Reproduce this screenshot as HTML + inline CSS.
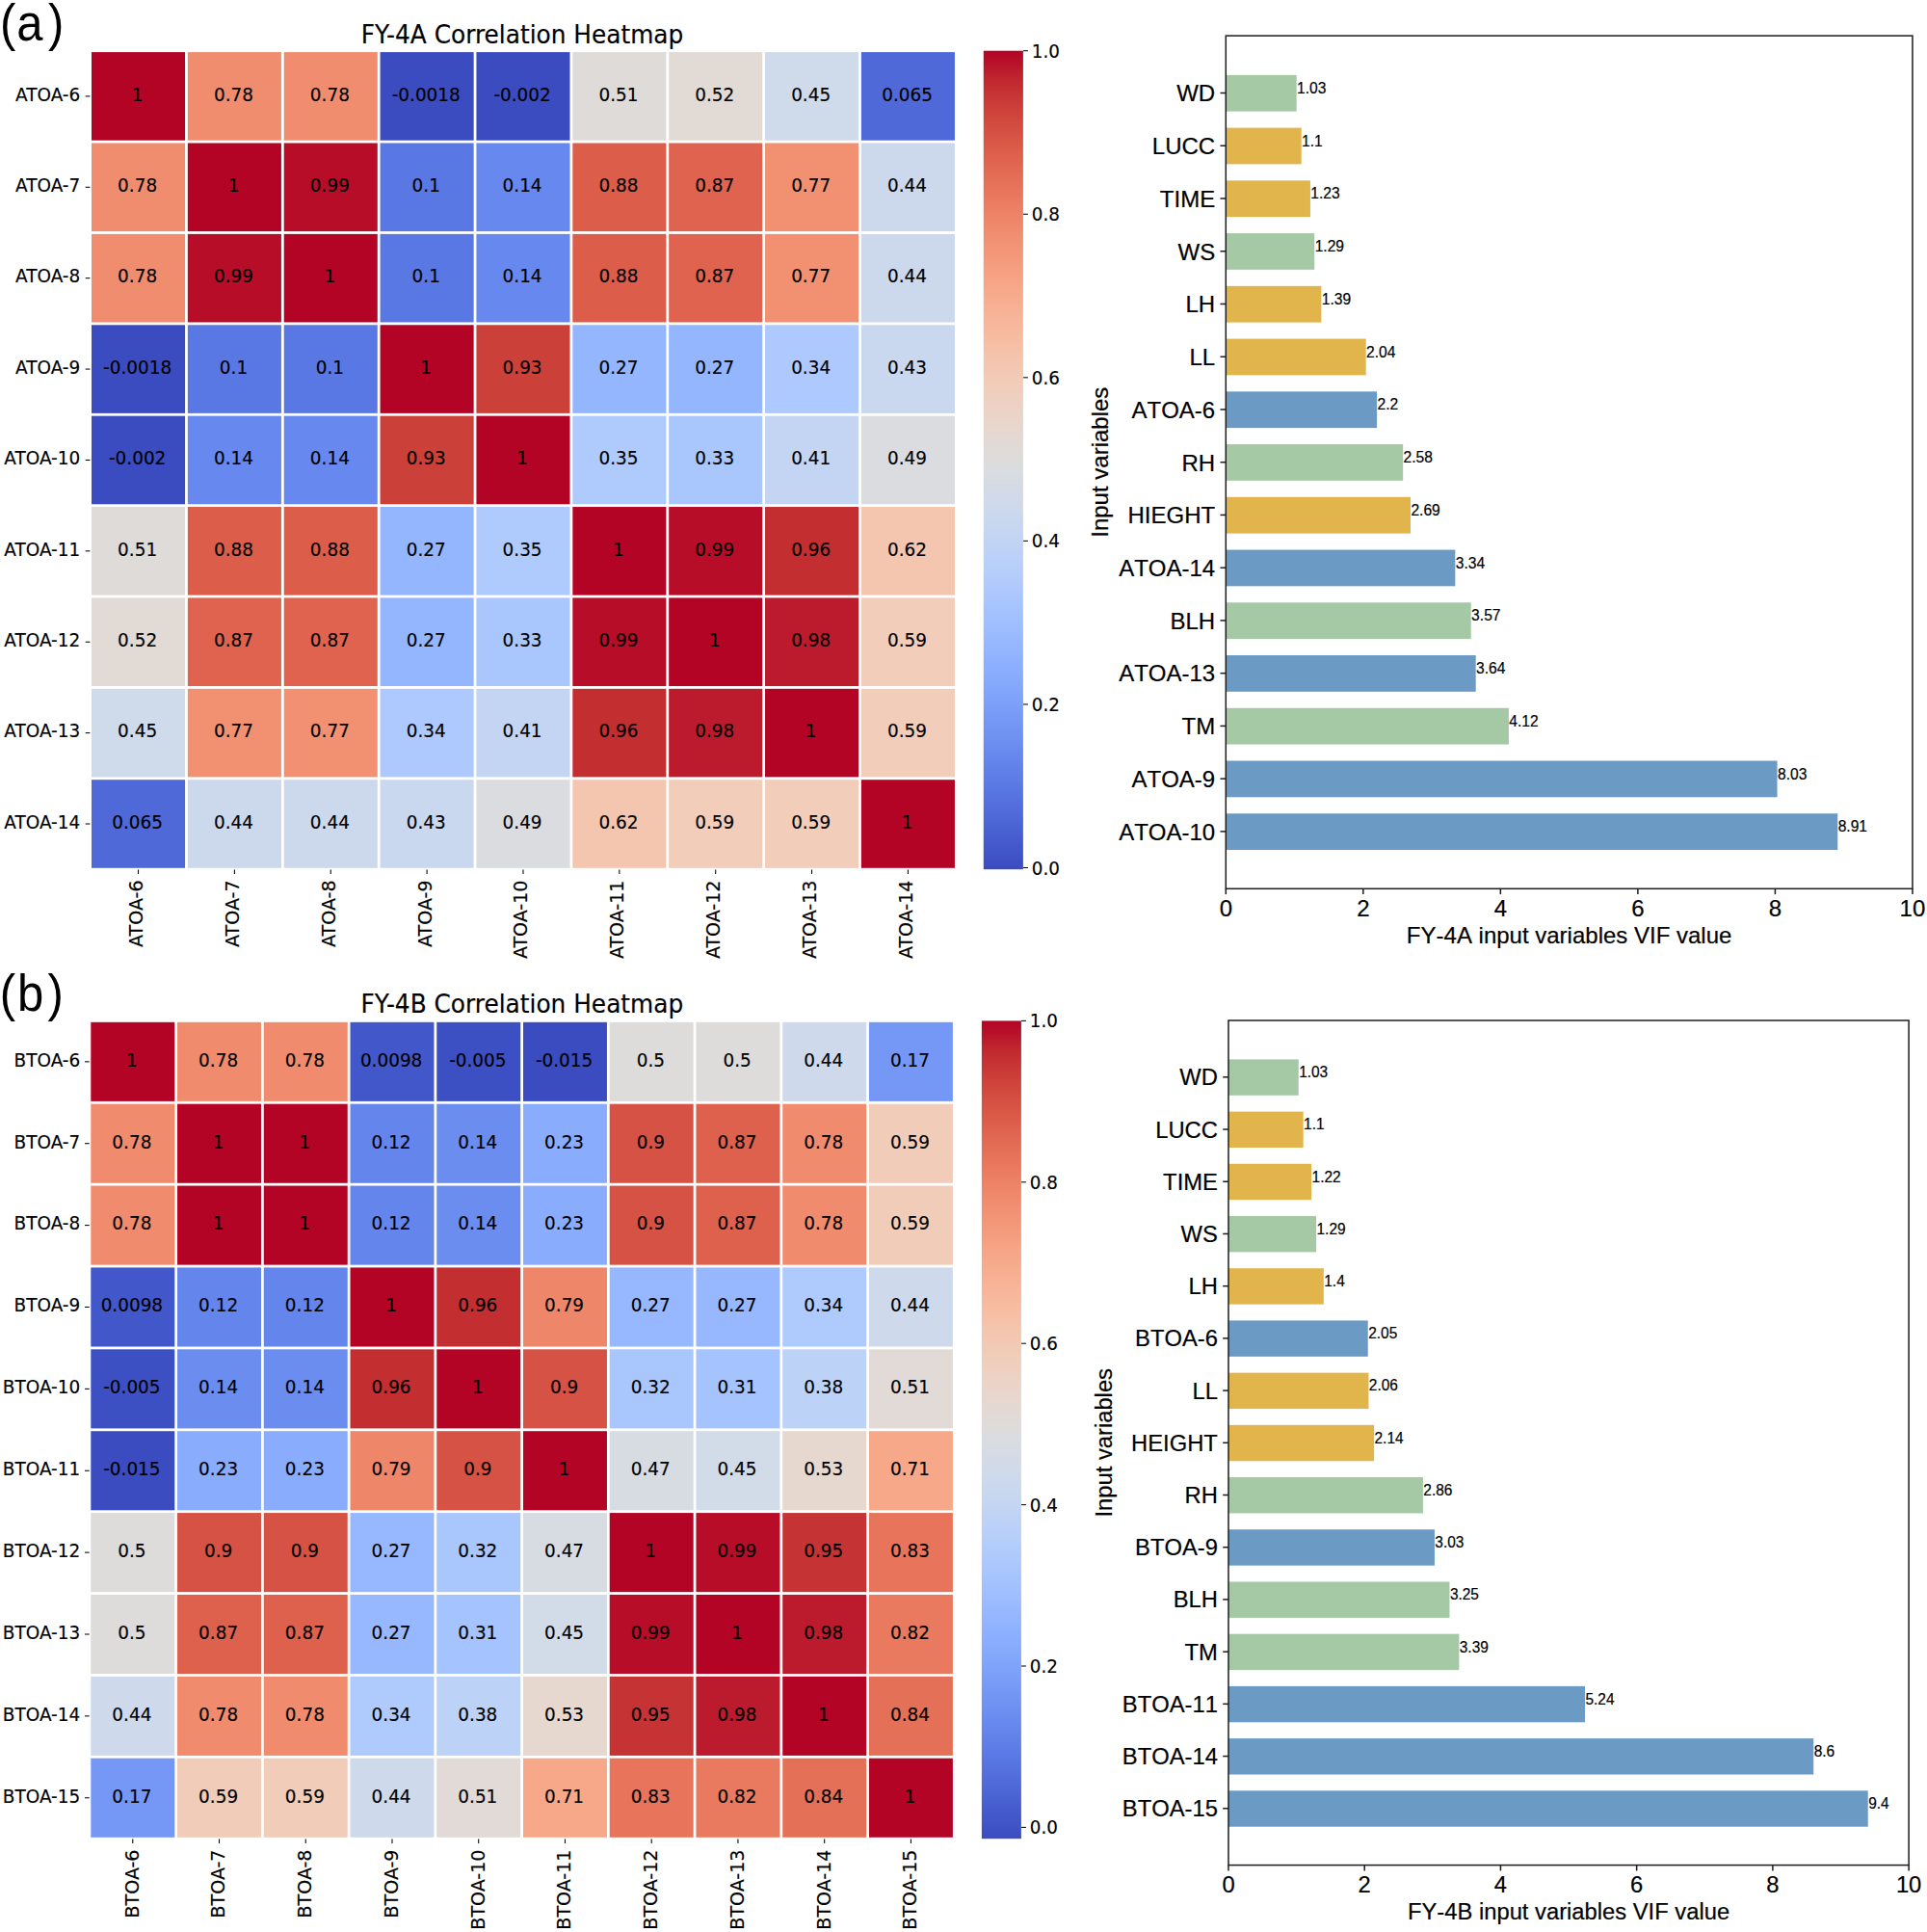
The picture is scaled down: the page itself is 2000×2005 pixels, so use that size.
<!DOCTYPE html>
<html lang="en"><head><meta charset="utf-8"><title>FY-4A / FY-4B correlation heatmaps and VIF values</title>
<style>
html,body{margin:0;padding:0;background:#fff}
body{width:2000px;height:2005px;overflow:hidden}
svg{display:block}
text.dj{font-family:'DejaVu Sans', 'Liberation Sans', sans-serif}
text.ls{font-family:'Liberation Sans', 'DejaVu Sans', sans-serif;font-kerning:none}
</style></head><body>
<svg width="2000" height="2005" viewBox="0 0 2000 2005">
<rect width="2000" height="2005" fill="#fff"/>
<g>
<rect x="93.60" y="52.70" width="898.75" height="849.50" fill="#fff"/>
<rect x="95.00" y="54.10" width="97.06" height="91.59" fill="#b40426"/>
<rect x="194.86" y="54.10" width="97.06" height="91.59" fill="#f18d6f"/>
<rect x="294.72" y="54.10" width="97.06" height="91.59" fill="#f18d6f"/>
<rect x="394.58" y="54.10" width="97.06" height="91.59" fill="#3b4cc0"/>
<rect x="494.44" y="54.10" width="97.06" height="91.59" fill="#3b4cc0"/>
<rect x="594.31" y="54.10" width="97.06" height="91.59" fill="#dfdbd9"/>
<rect x="694.17" y="54.10" width="97.06" height="91.59" fill="#e2dad5"/>
<rect x="794.03" y="54.10" width="97.06" height="91.59" fill="#cfdaea"/>
<rect x="893.89" y="54.10" width="97.06" height="91.59" fill="#4f69d9"/>
<rect x="95.00" y="148.49" width="97.06" height="91.59" fill="#f18d6f"/>
<rect x="194.86" y="148.49" width="97.06" height="91.59" fill="#b40426"/>
<rect x="294.72" y="148.49" width="97.06" height="91.59" fill="#b70d28"/>
<rect x="394.58" y="148.49" width="97.06" height="91.59" fill="#5a78e4"/>
<rect x="494.44" y="148.49" width="97.06" height="91.59" fill="#6788ee"/>
<rect x="594.31" y="148.49" width="97.06" height="91.59" fill="#dc5d4a"/>
<rect x="694.17" y="148.49" width="97.06" height="91.59" fill="#df634e"/>
<rect x="794.03" y="148.49" width="97.06" height="91.59" fill="#f29072"/>
<rect x="893.89" y="148.49" width="97.06" height="91.59" fill="#ccd9ed"/>
<rect x="95.00" y="242.88" width="97.06" height="91.59" fill="#f18d6f"/>
<rect x="194.86" y="242.88" width="97.06" height="91.59" fill="#b70d28"/>
<rect x="294.72" y="242.88" width="97.06" height="91.59" fill="#b40426"/>
<rect x="394.58" y="242.88" width="97.06" height="91.59" fill="#5a78e4"/>
<rect x="494.44" y="242.88" width="97.06" height="91.59" fill="#6788ee"/>
<rect x="594.31" y="242.88" width="97.06" height="91.59" fill="#dc5d4a"/>
<rect x="694.17" y="242.88" width="97.06" height="91.59" fill="#df634e"/>
<rect x="794.03" y="242.88" width="97.06" height="91.59" fill="#f29072"/>
<rect x="893.89" y="242.88" width="97.06" height="91.59" fill="#ccd9ed"/>
<rect x="95.00" y="337.27" width="97.06" height="91.59" fill="#3b4cc0"/>
<rect x="194.86" y="337.27" width="97.06" height="91.59" fill="#5a78e4"/>
<rect x="294.72" y="337.27" width="97.06" height="91.59" fill="#5a78e4"/>
<rect x="394.58" y="337.27" width="97.06" height="91.59" fill="#b40426"/>
<rect x="494.44" y="337.27" width="97.06" height="91.59" fill="#cc403a"/>
<rect x="594.31" y="337.27" width="97.06" height="91.59" fill="#94b6ff"/>
<rect x="694.17" y="337.27" width="97.06" height="91.59" fill="#94b6ff"/>
<rect x="794.03" y="337.27" width="97.06" height="91.59" fill="#adc9fd"/>
<rect x="893.89" y="337.27" width="97.06" height="91.59" fill="#cad8ef"/>
<rect x="95.00" y="431.66" width="97.06" height="91.59" fill="#3b4cc0"/>
<rect x="194.86" y="431.66" width="97.06" height="91.59" fill="#6788ee"/>
<rect x="294.72" y="431.66" width="97.06" height="91.59" fill="#6788ee"/>
<rect x="394.58" y="431.66" width="97.06" height="91.59" fill="#cc403a"/>
<rect x="494.44" y="431.66" width="97.06" height="91.59" fill="#b40426"/>
<rect x="594.31" y="431.66" width="97.06" height="91.59" fill="#afcafc"/>
<rect x="694.17" y="431.66" width="97.06" height="91.59" fill="#a9c6fd"/>
<rect x="794.03" y="431.66" width="97.06" height="91.59" fill="#c4d5f3"/>
<rect x="893.89" y="431.66" width="97.06" height="91.59" fill="#dadce0"/>
<rect x="95.00" y="526.04" width="97.06" height="91.59" fill="#dfdbd9"/>
<rect x="194.86" y="526.04" width="97.06" height="91.59" fill="#dc5d4a"/>
<rect x="294.72" y="526.04" width="97.06" height="91.59" fill="#dc5d4a"/>
<rect x="394.58" y="526.04" width="97.06" height="91.59" fill="#94b6ff"/>
<rect x="494.44" y="526.04" width="97.06" height="91.59" fill="#afcafc"/>
<rect x="594.31" y="526.04" width="97.06" height="91.59" fill="#b40426"/>
<rect x="694.17" y="526.04" width="97.06" height="91.59" fill="#b70d28"/>
<rect x="794.03" y="526.04" width="97.06" height="91.59" fill="#c32e31"/>
<rect x="893.89" y="526.04" width="97.06" height="91.59" fill="#f4c6af"/>
<rect x="95.00" y="620.43" width="97.06" height="91.59" fill="#e2dad5"/>
<rect x="194.86" y="620.43" width="97.06" height="91.59" fill="#df634e"/>
<rect x="294.72" y="620.43" width="97.06" height="91.59" fill="#df634e"/>
<rect x="394.58" y="620.43" width="97.06" height="91.59" fill="#94b6ff"/>
<rect x="494.44" y="620.43" width="97.06" height="91.59" fill="#a9c6fd"/>
<rect x="594.31" y="620.43" width="97.06" height="91.59" fill="#b70d28"/>
<rect x="694.17" y="620.43" width="97.06" height="91.59" fill="#b40426"/>
<rect x="794.03" y="620.43" width="97.06" height="91.59" fill="#bb1b2c"/>
<rect x="893.89" y="620.43" width="97.06" height="91.59" fill="#f1cdba"/>
<rect x="95.00" y="714.82" width="97.06" height="91.59" fill="#cfdaea"/>
<rect x="194.86" y="714.82" width="97.06" height="91.59" fill="#f29072"/>
<rect x="294.72" y="714.82" width="97.06" height="91.59" fill="#f29072"/>
<rect x="394.58" y="714.82" width="97.06" height="91.59" fill="#adc9fd"/>
<rect x="494.44" y="714.82" width="97.06" height="91.59" fill="#c4d5f3"/>
<rect x="594.31" y="714.82" width="97.06" height="91.59" fill="#c32e31"/>
<rect x="694.17" y="714.82" width="97.06" height="91.59" fill="#bb1b2c"/>
<rect x="794.03" y="714.82" width="97.06" height="91.59" fill="#b40426"/>
<rect x="893.89" y="714.82" width="97.06" height="91.59" fill="#f1cdba"/>
<rect x="95.00" y="809.21" width="97.06" height="91.59" fill="#4f69d9"/>
<rect x="194.86" y="809.21" width="97.06" height="91.59" fill="#ccd9ed"/>
<rect x="294.72" y="809.21" width="97.06" height="91.59" fill="#ccd9ed"/>
<rect x="394.58" y="809.21" width="97.06" height="91.59" fill="#cad8ef"/>
<rect x="494.44" y="809.21" width="97.06" height="91.59" fill="#dadce0"/>
<rect x="594.31" y="809.21" width="97.06" height="91.59" fill="#f4c6af"/>
<rect x="694.17" y="809.21" width="97.06" height="91.59" fill="#f1cdba"/>
<rect x="794.03" y="809.21" width="97.06" height="91.59" fill="#f1cdba"/>
<rect x="893.89" y="809.21" width="97.06" height="91.59" fill="#b40426"/>
<text class="dj" transform="translate(142.63,104.69) scale(0.9170,1.0000)" font-size="20.10" text-anchor="middle" fill="#000" stroke="#000" stroke-width="0.15">1</text>
<text class="dj" transform="translate(242.49,104.69) scale(0.9170,1.0000)" font-size="20.10" text-anchor="middle" fill="#000" stroke="#000" stroke-width="0.15">0.78</text>
<text class="dj" transform="translate(342.35,104.69) scale(0.9170,1.0000)" font-size="20.10" text-anchor="middle" fill="#000" stroke="#000" stroke-width="0.15">0.78</text>
<text class="dj" transform="translate(442.21,104.69) scale(0.9170,1.0000)" font-size="20.10" text-anchor="middle" fill="#000" stroke="#000" stroke-width="0.15">-0.0018</text>
<text class="dj" transform="translate(542.08,104.69) scale(0.9170,1.0000)" font-size="20.10" text-anchor="middle" fill="#000" stroke="#000" stroke-width="0.15">-0.002</text>
<text class="dj" transform="translate(641.94,104.69) scale(0.9170,1.0000)" font-size="20.10" text-anchor="middle" fill="#000" stroke="#000" stroke-width="0.15">0.51</text>
<text class="dj" transform="translate(741.80,104.69) scale(0.9170,1.0000)" font-size="20.10" text-anchor="middle" fill="#000" stroke="#000" stroke-width="0.15">0.52</text>
<text class="dj" transform="translate(841.66,104.69) scale(0.9170,1.0000)" font-size="20.10" text-anchor="middle" fill="#000" stroke="#000" stroke-width="0.15">0.45</text>
<text class="dj" transform="translate(941.52,104.69) scale(0.9170,1.0000)" font-size="20.10" text-anchor="middle" fill="#000" stroke="#000" stroke-width="0.15">0.065</text>
<text class="dj" transform="translate(142.63,199.08) scale(0.9170,1.0000)" font-size="20.10" text-anchor="middle" fill="#000" stroke="#000" stroke-width="0.15">0.78</text>
<text class="dj" transform="translate(242.49,199.08) scale(0.9170,1.0000)" font-size="20.10" text-anchor="middle" fill="#000" stroke="#000" stroke-width="0.15">1</text>
<text class="dj" transform="translate(342.35,199.08) scale(0.9170,1.0000)" font-size="20.10" text-anchor="middle" fill="#000" stroke="#000" stroke-width="0.15">0.99</text>
<text class="dj" transform="translate(442.21,199.08) scale(0.9170,1.0000)" font-size="20.10" text-anchor="middle" fill="#000" stroke="#000" stroke-width="0.15">0.1</text>
<text class="dj" transform="translate(542.08,199.08) scale(0.9170,1.0000)" font-size="20.10" text-anchor="middle" fill="#000" stroke="#000" stroke-width="0.15">0.14</text>
<text class="dj" transform="translate(641.94,199.08) scale(0.9170,1.0000)" font-size="20.10" text-anchor="middle" fill="#000" stroke="#000" stroke-width="0.15">0.88</text>
<text class="dj" transform="translate(741.80,199.08) scale(0.9170,1.0000)" font-size="20.10" text-anchor="middle" fill="#000" stroke="#000" stroke-width="0.15">0.87</text>
<text class="dj" transform="translate(841.66,199.08) scale(0.9170,1.0000)" font-size="20.10" text-anchor="middle" fill="#000" stroke="#000" stroke-width="0.15">0.77</text>
<text class="dj" transform="translate(941.52,199.08) scale(0.9170,1.0000)" font-size="20.10" text-anchor="middle" fill="#000" stroke="#000" stroke-width="0.15">0.44</text>
<text class="dj" transform="translate(142.63,293.47) scale(0.9170,1.0000)" font-size="20.10" text-anchor="middle" fill="#000" stroke="#000" stroke-width="0.15">0.78</text>
<text class="dj" transform="translate(242.49,293.47) scale(0.9170,1.0000)" font-size="20.10" text-anchor="middle" fill="#000" stroke="#000" stroke-width="0.15">0.99</text>
<text class="dj" transform="translate(342.35,293.47) scale(0.9170,1.0000)" font-size="20.10" text-anchor="middle" fill="#000" stroke="#000" stroke-width="0.15">1</text>
<text class="dj" transform="translate(442.21,293.47) scale(0.9170,1.0000)" font-size="20.10" text-anchor="middle" fill="#000" stroke="#000" stroke-width="0.15">0.1</text>
<text class="dj" transform="translate(542.08,293.47) scale(0.9170,1.0000)" font-size="20.10" text-anchor="middle" fill="#000" stroke="#000" stroke-width="0.15">0.14</text>
<text class="dj" transform="translate(641.94,293.47) scale(0.9170,1.0000)" font-size="20.10" text-anchor="middle" fill="#000" stroke="#000" stroke-width="0.15">0.88</text>
<text class="dj" transform="translate(741.80,293.47) scale(0.9170,1.0000)" font-size="20.10" text-anchor="middle" fill="#000" stroke="#000" stroke-width="0.15">0.87</text>
<text class="dj" transform="translate(841.66,293.47) scale(0.9170,1.0000)" font-size="20.10" text-anchor="middle" fill="#000" stroke="#000" stroke-width="0.15">0.77</text>
<text class="dj" transform="translate(941.52,293.47) scale(0.9170,1.0000)" font-size="20.10" text-anchor="middle" fill="#000" stroke="#000" stroke-width="0.15">0.44</text>
<text class="dj" transform="translate(142.63,387.86) scale(0.9170,1.0000)" font-size="20.10" text-anchor="middle" fill="#000" stroke="#000" stroke-width="0.15">-0.0018</text>
<text class="dj" transform="translate(242.49,387.86) scale(0.9170,1.0000)" font-size="20.10" text-anchor="middle" fill="#000" stroke="#000" stroke-width="0.15">0.1</text>
<text class="dj" transform="translate(342.35,387.86) scale(0.9170,1.0000)" font-size="20.10" text-anchor="middle" fill="#000" stroke="#000" stroke-width="0.15">0.1</text>
<text class="dj" transform="translate(442.21,387.86) scale(0.9170,1.0000)" font-size="20.10" text-anchor="middle" fill="#000" stroke="#000" stroke-width="0.15">1</text>
<text class="dj" transform="translate(542.08,387.86) scale(0.9170,1.0000)" font-size="20.10" text-anchor="middle" fill="#000" stroke="#000" stroke-width="0.15">0.93</text>
<text class="dj" transform="translate(641.94,387.86) scale(0.9170,1.0000)" font-size="20.10" text-anchor="middle" fill="#000" stroke="#000" stroke-width="0.15">0.27</text>
<text class="dj" transform="translate(741.80,387.86) scale(0.9170,1.0000)" font-size="20.10" text-anchor="middle" fill="#000" stroke="#000" stroke-width="0.15">0.27</text>
<text class="dj" transform="translate(841.66,387.86) scale(0.9170,1.0000)" font-size="20.10" text-anchor="middle" fill="#000" stroke="#000" stroke-width="0.15">0.34</text>
<text class="dj" transform="translate(941.52,387.86) scale(0.9170,1.0000)" font-size="20.10" text-anchor="middle" fill="#000" stroke="#000" stroke-width="0.15">0.43</text>
<text class="dj" transform="translate(142.63,482.25) scale(0.9170,1.0000)" font-size="20.10" text-anchor="middle" fill="#000" stroke="#000" stroke-width="0.15">-0.002</text>
<text class="dj" transform="translate(242.49,482.25) scale(0.9170,1.0000)" font-size="20.10" text-anchor="middle" fill="#000" stroke="#000" stroke-width="0.15">0.14</text>
<text class="dj" transform="translate(342.35,482.25) scale(0.9170,1.0000)" font-size="20.10" text-anchor="middle" fill="#000" stroke="#000" stroke-width="0.15">0.14</text>
<text class="dj" transform="translate(442.21,482.25) scale(0.9170,1.0000)" font-size="20.10" text-anchor="middle" fill="#000" stroke="#000" stroke-width="0.15">0.93</text>
<text class="dj" transform="translate(542.08,482.25) scale(0.9170,1.0000)" font-size="20.10" text-anchor="middle" fill="#000" stroke="#000" stroke-width="0.15">1</text>
<text class="dj" transform="translate(641.94,482.25) scale(0.9170,1.0000)" font-size="20.10" text-anchor="middle" fill="#000" stroke="#000" stroke-width="0.15">0.35</text>
<text class="dj" transform="translate(741.80,482.25) scale(0.9170,1.0000)" font-size="20.10" text-anchor="middle" fill="#000" stroke="#000" stroke-width="0.15">0.33</text>
<text class="dj" transform="translate(841.66,482.25) scale(0.9170,1.0000)" font-size="20.10" text-anchor="middle" fill="#000" stroke="#000" stroke-width="0.15">0.41</text>
<text class="dj" transform="translate(941.52,482.25) scale(0.9170,1.0000)" font-size="20.10" text-anchor="middle" fill="#000" stroke="#000" stroke-width="0.15">0.49</text>
<text class="dj" transform="translate(142.63,576.64) scale(0.9170,1.0000)" font-size="20.10" text-anchor="middle" fill="#000" stroke="#000" stroke-width="0.15">0.51</text>
<text class="dj" transform="translate(242.49,576.64) scale(0.9170,1.0000)" font-size="20.10" text-anchor="middle" fill="#000" stroke="#000" stroke-width="0.15">0.88</text>
<text class="dj" transform="translate(342.35,576.64) scale(0.9170,1.0000)" font-size="20.10" text-anchor="middle" fill="#000" stroke="#000" stroke-width="0.15">0.88</text>
<text class="dj" transform="translate(442.21,576.64) scale(0.9170,1.0000)" font-size="20.10" text-anchor="middle" fill="#000" stroke="#000" stroke-width="0.15">0.27</text>
<text class="dj" transform="translate(542.08,576.64) scale(0.9170,1.0000)" font-size="20.10" text-anchor="middle" fill="#000" stroke="#000" stroke-width="0.15">0.35</text>
<text class="dj" transform="translate(641.94,576.64) scale(0.9170,1.0000)" font-size="20.10" text-anchor="middle" fill="#000" stroke="#000" stroke-width="0.15">1</text>
<text class="dj" transform="translate(741.80,576.64) scale(0.9170,1.0000)" font-size="20.10" text-anchor="middle" fill="#000" stroke="#000" stroke-width="0.15">0.99</text>
<text class="dj" transform="translate(841.66,576.64) scale(0.9170,1.0000)" font-size="20.10" text-anchor="middle" fill="#000" stroke="#000" stroke-width="0.15">0.96</text>
<text class="dj" transform="translate(941.52,576.64) scale(0.9170,1.0000)" font-size="20.10" text-anchor="middle" fill="#000" stroke="#000" stroke-width="0.15">0.62</text>
<text class="dj" transform="translate(142.63,671.03) scale(0.9170,1.0000)" font-size="20.10" text-anchor="middle" fill="#000" stroke="#000" stroke-width="0.15">0.52</text>
<text class="dj" transform="translate(242.49,671.03) scale(0.9170,1.0000)" font-size="20.10" text-anchor="middle" fill="#000" stroke="#000" stroke-width="0.15">0.87</text>
<text class="dj" transform="translate(342.35,671.03) scale(0.9170,1.0000)" font-size="20.10" text-anchor="middle" fill="#000" stroke="#000" stroke-width="0.15">0.87</text>
<text class="dj" transform="translate(442.21,671.03) scale(0.9170,1.0000)" font-size="20.10" text-anchor="middle" fill="#000" stroke="#000" stroke-width="0.15">0.27</text>
<text class="dj" transform="translate(542.08,671.03) scale(0.9170,1.0000)" font-size="20.10" text-anchor="middle" fill="#000" stroke="#000" stroke-width="0.15">0.33</text>
<text class="dj" transform="translate(641.94,671.03) scale(0.9170,1.0000)" font-size="20.10" text-anchor="middle" fill="#000" stroke="#000" stroke-width="0.15">0.99</text>
<text class="dj" transform="translate(741.80,671.03) scale(0.9170,1.0000)" font-size="20.10" text-anchor="middle" fill="#000" stroke="#000" stroke-width="0.15">1</text>
<text class="dj" transform="translate(841.66,671.03) scale(0.9170,1.0000)" font-size="20.10" text-anchor="middle" fill="#000" stroke="#000" stroke-width="0.15">0.98</text>
<text class="dj" transform="translate(941.52,671.03) scale(0.9170,1.0000)" font-size="20.10" text-anchor="middle" fill="#000" stroke="#000" stroke-width="0.15">0.59</text>
<text class="dj" transform="translate(142.63,765.42) scale(0.9170,1.0000)" font-size="20.10" text-anchor="middle" fill="#000" stroke="#000" stroke-width="0.15">0.45</text>
<text class="dj" transform="translate(242.49,765.42) scale(0.9170,1.0000)" font-size="20.10" text-anchor="middle" fill="#000" stroke="#000" stroke-width="0.15">0.77</text>
<text class="dj" transform="translate(342.35,765.42) scale(0.9170,1.0000)" font-size="20.10" text-anchor="middle" fill="#000" stroke="#000" stroke-width="0.15">0.77</text>
<text class="dj" transform="translate(442.21,765.42) scale(0.9170,1.0000)" font-size="20.10" text-anchor="middle" fill="#000" stroke="#000" stroke-width="0.15">0.34</text>
<text class="dj" transform="translate(542.08,765.42) scale(0.9170,1.0000)" font-size="20.10" text-anchor="middle" fill="#000" stroke="#000" stroke-width="0.15">0.41</text>
<text class="dj" transform="translate(641.94,765.42) scale(0.9170,1.0000)" font-size="20.10" text-anchor="middle" fill="#000" stroke="#000" stroke-width="0.15">0.96</text>
<text class="dj" transform="translate(741.80,765.42) scale(0.9170,1.0000)" font-size="20.10" text-anchor="middle" fill="#000" stroke="#000" stroke-width="0.15">0.98</text>
<text class="dj" transform="translate(841.66,765.42) scale(0.9170,1.0000)" font-size="20.10" text-anchor="middle" fill="#000" stroke="#000" stroke-width="0.15">1</text>
<text class="dj" transform="translate(941.52,765.42) scale(0.9170,1.0000)" font-size="20.10" text-anchor="middle" fill="#000" stroke="#000" stroke-width="0.15">0.59</text>
<text class="dj" transform="translate(142.63,859.81) scale(0.9170,1.0000)" font-size="20.10" text-anchor="middle" fill="#000" stroke="#000" stroke-width="0.15">0.065</text>
<text class="dj" transform="translate(242.49,859.81) scale(0.9170,1.0000)" font-size="20.10" text-anchor="middle" fill="#000" stroke="#000" stroke-width="0.15">0.44</text>
<text class="dj" transform="translate(342.35,859.81) scale(0.9170,1.0000)" font-size="20.10" text-anchor="middle" fill="#000" stroke="#000" stroke-width="0.15">0.44</text>
<text class="dj" transform="translate(442.21,859.81) scale(0.9170,1.0000)" font-size="20.10" text-anchor="middle" fill="#000" stroke="#000" stroke-width="0.15">0.43</text>
<text class="dj" transform="translate(542.08,859.81) scale(0.9170,1.0000)" font-size="20.10" text-anchor="middle" fill="#000" stroke="#000" stroke-width="0.15">0.49</text>
<text class="dj" transform="translate(641.94,859.81) scale(0.9170,1.0000)" font-size="20.10" text-anchor="middle" fill="#000" stroke="#000" stroke-width="0.15">0.62</text>
<text class="dj" transform="translate(741.80,859.81) scale(0.9170,1.0000)" font-size="20.10" text-anchor="middle" fill="#000" stroke="#000" stroke-width="0.15">0.59</text>
<text class="dj" transform="translate(841.66,859.81) scale(0.9170,1.0000)" font-size="20.10" text-anchor="middle" fill="#000" stroke="#000" stroke-width="0.15">0.59</text>
<text class="dj" transform="translate(941.52,859.81) scale(0.9170,1.0000)" font-size="20.10" text-anchor="middle" fill="#000" stroke="#000" stroke-width="0.15">1</text>
<line x1="88.70" y1="99.89" x2="93.40" y2="99.89" stroke="#000" stroke-width="1.05"/>
<text class="dj" transform="translate(83.20,104.69) scale(0.9170,1.0000)" font-size="20.10" text-anchor="end" fill="#000" stroke="#000" stroke-width="0.15">ATOA-6</text>
<line x1="88.70" y1="194.28" x2="93.40" y2="194.28" stroke="#000" stroke-width="1.05"/>
<text class="dj" transform="translate(83.20,199.08) scale(0.9170,1.0000)" font-size="20.10" text-anchor="end" fill="#000" stroke="#000" stroke-width="0.15">ATOA-7</text>
<line x1="88.70" y1="288.67" x2="93.40" y2="288.67" stroke="#000" stroke-width="1.05"/>
<text class="dj" transform="translate(83.20,293.47) scale(0.9170,1.0000)" font-size="20.10" text-anchor="end" fill="#000" stroke="#000" stroke-width="0.15">ATOA-8</text>
<line x1="88.70" y1="383.06" x2="93.40" y2="383.06" stroke="#000" stroke-width="1.05"/>
<text class="dj" transform="translate(83.20,387.86) scale(0.9170,1.0000)" font-size="20.10" text-anchor="end" fill="#000" stroke="#000" stroke-width="0.15">ATOA-9</text>
<line x1="88.70" y1="477.45" x2="93.40" y2="477.45" stroke="#000" stroke-width="1.05"/>
<text class="dj" transform="translate(83.20,482.25) scale(0.9170,1.0000)" font-size="20.10" text-anchor="end" fill="#000" stroke="#000" stroke-width="0.15">ATOA-10</text>
<line x1="88.70" y1="571.84" x2="93.40" y2="571.84" stroke="#000" stroke-width="1.05"/>
<text class="dj" transform="translate(83.20,576.64) scale(0.9170,1.0000)" font-size="20.10" text-anchor="end" fill="#000" stroke="#000" stroke-width="0.15">ATOA-11</text>
<line x1="88.70" y1="666.23" x2="93.40" y2="666.23" stroke="#000" stroke-width="1.05"/>
<text class="dj" transform="translate(83.20,671.03) scale(0.9170,1.0000)" font-size="20.10" text-anchor="end" fill="#000" stroke="#000" stroke-width="0.15">ATOA-12</text>
<line x1="88.70" y1="760.62" x2="93.40" y2="760.62" stroke="#000" stroke-width="1.05"/>
<text class="dj" transform="translate(83.20,765.42) scale(0.9170,1.0000)" font-size="20.10" text-anchor="end" fill="#000" stroke="#000" stroke-width="0.15">ATOA-13</text>
<line x1="88.70" y1="855.01" x2="93.40" y2="855.01" stroke="#000" stroke-width="1.05"/>
<text class="dj" transform="translate(83.20,859.81) scale(0.9170,1.0000)" font-size="20.10" text-anchor="end" fill="#000" stroke="#000" stroke-width="0.15">ATOA-14</text>
<line x1="143.53" y1="902.40" x2="143.53" y2="907.10" stroke="#000" stroke-width="1.05"/>
<text class="dj" transform="translate(148.03,913.50) rotate(-90) scale(0.9680,1.0000)" font-size="19.70" text-anchor="end" fill="#000" stroke="#000" stroke-width="0.15">ATOA-6</text>
<line x1="243.39" y1="902.40" x2="243.39" y2="907.10" stroke="#000" stroke-width="1.05"/>
<text class="dj" transform="translate(247.89,913.50) rotate(-90) scale(0.9680,1.0000)" font-size="19.70" text-anchor="end" fill="#000" stroke="#000" stroke-width="0.15">ATOA-7</text>
<line x1="343.25" y1="902.40" x2="343.25" y2="907.10" stroke="#000" stroke-width="1.05"/>
<text class="dj" transform="translate(347.75,913.50) rotate(-90) scale(0.9680,1.0000)" font-size="19.70" text-anchor="end" fill="#000" stroke="#000" stroke-width="0.15">ATOA-8</text>
<line x1="443.11" y1="902.40" x2="443.11" y2="907.10" stroke="#000" stroke-width="1.05"/>
<text class="dj" transform="translate(447.61,913.50) rotate(-90) scale(0.9680,1.0000)" font-size="19.70" text-anchor="end" fill="#000" stroke="#000" stroke-width="0.15">ATOA-9</text>
<line x1="542.98" y1="902.40" x2="542.98" y2="907.10" stroke="#000" stroke-width="1.05"/>
<text class="dj" transform="translate(547.48,913.50) rotate(-90) scale(0.9680,1.0000)" font-size="19.70" text-anchor="end" fill="#000" stroke="#000" stroke-width="0.15">ATOA-10</text>
<line x1="642.84" y1="902.40" x2="642.84" y2="907.10" stroke="#000" stroke-width="1.05"/>
<text class="dj" transform="translate(647.34,913.50) rotate(-90) scale(0.9680,1.0000)" font-size="19.70" text-anchor="end" fill="#000" stroke="#000" stroke-width="0.15">ATOA-11</text>
<line x1="742.70" y1="902.40" x2="742.70" y2="907.10" stroke="#000" stroke-width="1.05"/>
<text class="dj" transform="translate(747.20,913.50) rotate(-90) scale(0.9680,1.0000)" font-size="19.70" text-anchor="end" fill="#000" stroke="#000" stroke-width="0.15">ATOA-12</text>
<line x1="842.56" y1="902.40" x2="842.56" y2="907.10" stroke="#000" stroke-width="1.05"/>
<text class="dj" transform="translate(847.06,913.50) rotate(-90) scale(0.9680,1.0000)" font-size="19.70" text-anchor="end" fill="#000" stroke="#000" stroke-width="0.15">ATOA-13</text>
<line x1="942.42" y1="902.40" x2="942.42" y2="907.10" stroke="#000" stroke-width="1.05"/>
<text class="dj" transform="translate(946.92,913.50) rotate(-90) scale(0.9680,1.0000)" font-size="19.70" text-anchor="end" fill="#000" stroke="#000" stroke-width="0.15">ATOA-14</text>
<text class="dj" transform="translate(541.98,45.10) scale(0.9400,1.0000)" font-size="26.40" text-anchor="middle" fill="#000" stroke="#000" stroke-width="0.15">FY-4A Correlation Heatmap</text>
<defs><linearGradient id="ga" x1="0" y1="0" x2="0" y2="1"><stop offset="0.0000" stop-color="#b40426"/><stop offset="0.0156" stop-color="#b8122a"/><stop offset="0.0312" stop-color="#be242e"/><stop offset="0.0469" stop-color="#c43032"/><stop offset="0.0625" stop-color="#ca3b37"/><stop offset="0.0781" stop-color="#cf453c"/><stop offset="0.0938" stop-color="#d44e41"/><stop offset="0.1094" stop-color="#d85646"/><stop offset="0.1250" stop-color="#dd5f4b"/><stop offset="0.1406" stop-color="#e16751"/><stop offset="0.1562" stop-color="#e46e56"/><stop offset="0.1719" stop-color="#e8765c"/><stop offset="0.1875" stop-color="#eb7d62"/><stop offset="0.2031" stop-color="#ee8468"/><stop offset="0.2188" stop-color="#f08b6e"/><stop offset="0.2344" stop-color="#f29274"/><stop offset="0.2500" stop-color="#f4987a"/><stop offset="0.2656" stop-color="#f59f80"/><stop offset="0.2812" stop-color="#f6a586"/><stop offset="0.2969" stop-color="#f7aa8c"/><stop offset="0.3125" stop-color="#f7b093"/><stop offset="0.3281" stop-color="#f7b599"/><stop offset="0.3438" stop-color="#f7ba9f"/><stop offset="0.3594" stop-color="#f6bfa6"/><stop offset="0.3750" stop-color="#f5c4ac"/><stop offset="0.3906" stop-color="#f3c8b2"/><stop offset="0.4062" stop-color="#f1ccb8"/><stop offset="0.4219" stop-color="#efcfbf"/><stop offset="0.4375" stop-color="#ecd3c5"/><stop offset="0.4531" stop-color="#e9d5cb"/><stop offset="0.4688" stop-color="#e5d8d1"/><stop offset="0.4844" stop-color="#e1dad6"/><stop offset="0.5000" stop-color="#dddcdc"/><stop offset="0.5156" stop-color="#d9dce1"/><stop offset="0.5312" stop-color="#d5dbe5"/><stop offset="0.5469" stop-color="#d1dae9"/><stop offset="0.5625" stop-color="#ccd9ed"/><stop offset="0.5781" stop-color="#c7d7f0"/><stop offset="0.5938" stop-color="#c3d5f4"/><stop offset="0.6094" stop-color="#bed2f6"/><stop offset="0.6250" stop-color="#b9d0f9"/><stop offset="0.6406" stop-color="#b3cdfb"/><stop offset="0.6562" stop-color="#aec9fc"/><stop offset="0.6719" stop-color="#a9c6fd"/><stop offset="0.6875" stop-color="#a3c2fe"/><stop offset="0.7031" stop-color="#9ebeff"/><stop offset="0.7188" stop-color="#98b9ff"/><stop offset="0.7344" stop-color="#93b5fe"/><stop offset="0.7500" stop-color="#8db0fe"/><stop offset="0.7656" stop-color="#88abfd"/><stop offset="0.7812" stop-color="#82a6fb"/><stop offset="0.7969" stop-color="#7da0f9"/><stop offset="0.8125" stop-color="#779af7"/><stop offset="0.8281" stop-color="#7295f4"/><stop offset="0.8438" stop-color="#6c8ff1"/><stop offset="0.8594" stop-color="#6788ee"/><stop offset="0.8750" stop-color="#6282ea"/><stop offset="0.8906" stop-color="#5d7ce6"/><stop offset="0.9062" stop-color="#5875e1"/><stop offset="0.9219" stop-color="#536edd"/><stop offset="0.9375" stop-color="#4e68d8"/><stop offset="0.9531" stop-color="#4961d2"/><stop offset="0.9688" stop-color="#445acc"/><stop offset="0.9844" stop-color="#3f53c6"/><stop offset="1.0000" stop-color="#3b4cc0"/></linearGradient></defs>
<rect x="1020.80" y="52.70" width="41.10" height="849.50" fill="url(#ga)"/>
<line x1="1062.10" y1="900.50" x2="1066.90" y2="900.50" stroke="#000" stroke-width="1.05"/>
<text class="dj" transform="translate(1070.80,907.50) scale(0.9150,1.0000)" font-size="20.00" text-anchor="start" fill="#000" stroke="#000" stroke-width="0.15">0.0</text>
<line x1="1062.10" y1="730.94" x2="1066.90" y2="730.94" stroke="#000" stroke-width="1.05"/>
<text class="dj" transform="translate(1070.80,737.94) scale(0.9150,1.0000)" font-size="20.00" text-anchor="start" fill="#000" stroke="#000" stroke-width="0.15">0.2</text>
<line x1="1062.10" y1="561.38" x2="1066.90" y2="561.38" stroke="#000" stroke-width="1.05"/>
<text class="dj" transform="translate(1070.80,568.38) scale(0.9150,1.0000)" font-size="20.00" text-anchor="start" fill="#000" stroke="#000" stroke-width="0.15">0.4</text>
<line x1="1062.10" y1="391.82" x2="1066.90" y2="391.82" stroke="#000" stroke-width="1.05"/>
<text class="dj" transform="translate(1070.80,398.82) scale(0.9150,1.0000)" font-size="20.00" text-anchor="start" fill="#000" stroke="#000" stroke-width="0.15">0.6</text>
<line x1="1062.10" y1="222.26" x2="1066.90" y2="222.26" stroke="#000" stroke-width="1.05"/>
<text class="dj" transform="translate(1070.80,229.26) scale(0.9150,1.0000)" font-size="20.00" text-anchor="start" fill="#000" stroke="#000" stroke-width="0.15">0.8</text>
<line x1="1062.10" y1="52.70" x2="1066.90" y2="52.70" stroke="#000" stroke-width="1.05"/>
<text class="dj" transform="translate(1070.80,59.70) scale(0.9150,1.0000)" font-size="20.00" text-anchor="start" fill="#000" stroke="#000" stroke-width="0.15">1.0</text>
</g>
<g>
<rect x="92.90" y="1059.40" width="897.40" height="848.80" fill="#fff"/>
<rect x="94.30" y="1060.80" width="86.94" height="82.08" fill="#b40426"/>
<rect x="184.04" y="1060.80" width="86.94" height="82.08" fill="#f08b6e"/>
<rect x="273.78" y="1060.80" width="86.94" height="82.08" fill="#f08b6e"/>
<rect x="363.52" y="1060.80" width="86.94" height="82.08" fill="#4257c9"/>
<rect x="453.26" y="1060.80" width="86.94" height="82.08" fill="#3d50c3"/>
<rect x="543.00" y="1060.80" width="86.94" height="82.08" fill="#3b4cc0"/>
<rect x="632.74" y="1060.80" width="86.94" height="82.08" fill="#dedcdb"/>
<rect x="722.48" y="1060.80" width="86.94" height="82.08" fill="#dedcdb"/>
<rect x="812.22" y="1060.80" width="86.94" height="82.08" fill="#cedaeb"/>
<rect x="901.96" y="1060.80" width="86.94" height="82.08" fill="#7597f6"/>
<rect x="94.30" y="1145.68" width="86.94" height="82.08" fill="#f08b6e"/>
<rect x="184.04" y="1145.68" width="86.94" height="82.08" fill="#b40426"/>
<rect x="273.78" y="1145.68" width="86.94" height="82.08" fill="#b40426"/>
<rect x="363.52" y="1145.68" width="86.94" height="82.08" fill="#6485ec"/>
<rect x="453.26" y="1145.68" width="86.94" height="82.08" fill="#6b8df0"/>
<rect x="543.00" y="1145.68" width="86.94" height="82.08" fill="#89acfd"/>
<rect x="632.74" y="1145.68" width="86.94" height="82.08" fill="#d65244"/>
<rect x="722.48" y="1145.68" width="86.94" height="82.08" fill="#de614d"/>
<rect x="812.22" y="1145.68" width="86.94" height="82.08" fill="#f08b6e"/>
<rect x="901.96" y="1145.68" width="86.94" height="82.08" fill="#f1ccb8"/>
<rect x="94.30" y="1230.56" width="86.94" height="82.08" fill="#f08b6e"/>
<rect x="184.04" y="1230.56" width="86.94" height="82.08" fill="#b40426"/>
<rect x="273.78" y="1230.56" width="86.94" height="82.08" fill="#b40426"/>
<rect x="363.52" y="1230.56" width="86.94" height="82.08" fill="#6485ec"/>
<rect x="453.26" y="1230.56" width="86.94" height="82.08" fill="#6b8df0"/>
<rect x="543.00" y="1230.56" width="86.94" height="82.08" fill="#89acfd"/>
<rect x="632.74" y="1230.56" width="86.94" height="82.08" fill="#d65244"/>
<rect x="722.48" y="1230.56" width="86.94" height="82.08" fill="#de614d"/>
<rect x="812.22" y="1230.56" width="86.94" height="82.08" fill="#f08b6e"/>
<rect x="901.96" y="1230.56" width="86.94" height="82.08" fill="#f1ccb8"/>
<rect x="94.30" y="1315.44" width="86.94" height="82.08" fill="#4257c9"/>
<rect x="184.04" y="1315.44" width="86.94" height="82.08" fill="#6485ec"/>
<rect x="273.78" y="1315.44" width="86.94" height="82.08" fill="#6485ec"/>
<rect x="363.52" y="1315.44" width="86.94" height="82.08" fill="#b40426"/>
<rect x="453.26" y="1315.44" width="86.94" height="82.08" fill="#c32e31"/>
<rect x="543.00" y="1315.44" width="86.94" height="82.08" fill="#ee8669"/>
<rect x="632.74" y="1315.44" width="86.94" height="82.08" fill="#97b8ff"/>
<rect x="722.48" y="1315.44" width="86.94" height="82.08" fill="#97b8ff"/>
<rect x="812.22" y="1315.44" width="86.94" height="82.08" fill="#afcafc"/>
<rect x="901.96" y="1315.44" width="86.94" height="82.08" fill="#cedaeb"/>
<rect x="94.30" y="1400.32" width="86.94" height="82.08" fill="#3d50c3"/>
<rect x="184.04" y="1400.32" width="86.94" height="82.08" fill="#6b8df0"/>
<rect x="273.78" y="1400.32" width="86.94" height="82.08" fill="#6b8df0"/>
<rect x="363.52" y="1400.32" width="86.94" height="82.08" fill="#c32e31"/>
<rect x="453.26" y="1400.32" width="86.94" height="82.08" fill="#b40426"/>
<rect x="543.00" y="1400.32" width="86.94" height="82.08" fill="#d65244"/>
<rect x="632.74" y="1400.32" width="86.94" height="82.08" fill="#a9c6fd"/>
<rect x="722.48" y="1400.32" width="86.94" height="82.08" fill="#a5c3fe"/>
<rect x="812.22" y="1400.32" width="86.94" height="82.08" fill="#bcd2f7"/>
<rect x="901.96" y="1400.32" width="86.94" height="82.08" fill="#e1dad6"/>
<rect x="94.30" y="1485.20" width="86.94" height="82.08" fill="#3b4cc0"/>
<rect x="184.04" y="1485.20" width="86.94" height="82.08" fill="#89acfd"/>
<rect x="273.78" y="1485.20" width="86.94" height="82.08" fill="#89acfd"/>
<rect x="363.52" y="1485.20" width="86.94" height="82.08" fill="#ee8669"/>
<rect x="453.26" y="1485.20" width="86.94" height="82.08" fill="#d65244"/>
<rect x="543.00" y="1485.20" width="86.94" height="82.08" fill="#b40426"/>
<rect x="632.74" y="1485.20" width="86.94" height="82.08" fill="#d7dce3"/>
<rect x="722.48" y="1485.20" width="86.94" height="82.08" fill="#d2dbe8"/>
<rect x="812.22" y="1485.20" width="86.94" height="82.08" fill="#e6d7cf"/>
<rect x="901.96" y="1485.20" width="86.94" height="82.08" fill="#f7a889"/>
<rect x="94.30" y="1570.08" width="86.94" height="82.08" fill="#dedcdb"/>
<rect x="184.04" y="1570.08" width="86.94" height="82.08" fill="#d65244"/>
<rect x="273.78" y="1570.08" width="86.94" height="82.08" fill="#d65244"/>
<rect x="363.52" y="1570.08" width="86.94" height="82.08" fill="#97b8ff"/>
<rect x="453.26" y="1570.08" width="86.94" height="82.08" fill="#a9c6fd"/>
<rect x="543.00" y="1570.08" width="86.94" height="82.08" fill="#d7dce3"/>
<rect x="632.74" y="1570.08" width="86.94" height="82.08" fill="#b40426"/>
<rect x="722.48" y="1570.08" width="86.94" height="82.08" fill="#b70d28"/>
<rect x="812.22" y="1570.08" width="86.94" height="82.08" fill="#c53334"/>
<rect x="901.96" y="1570.08" width="86.94" height="82.08" fill="#e7745b"/>
<rect x="94.30" y="1654.96" width="86.94" height="82.08" fill="#dedcdb"/>
<rect x="184.04" y="1654.96" width="86.94" height="82.08" fill="#de614d"/>
<rect x="273.78" y="1654.96" width="86.94" height="82.08" fill="#de614d"/>
<rect x="363.52" y="1654.96" width="86.94" height="82.08" fill="#97b8ff"/>
<rect x="453.26" y="1654.96" width="86.94" height="82.08" fill="#a5c3fe"/>
<rect x="543.00" y="1654.96" width="86.94" height="82.08" fill="#d2dbe8"/>
<rect x="632.74" y="1654.96" width="86.94" height="82.08" fill="#b70d28"/>
<rect x="722.48" y="1654.96" width="86.94" height="82.08" fill="#b40426"/>
<rect x="812.22" y="1654.96" width="86.94" height="82.08" fill="#bb1b2c"/>
<rect x="901.96" y="1654.96" width="86.94" height="82.08" fill="#e97a5f"/>
<rect x="94.30" y="1739.84" width="86.94" height="82.08" fill="#cedaeb"/>
<rect x="184.04" y="1739.84" width="86.94" height="82.08" fill="#f08b6e"/>
<rect x="273.78" y="1739.84" width="86.94" height="82.08" fill="#f08b6e"/>
<rect x="363.52" y="1739.84" width="86.94" height="82.08" fill="#afcafc"/>
<rect x="453.26" y="1739.84" width="86.94" height="82.08" fill="#bcd2f7"/>
<rect x="543.00" y="1739.84" width="86.94" height="82.08" fill="#e6d7cf"/>
<rect x="632.74" y="1739.84" width="86.94" height="82.08" fill="#c53334"/>
<rect x="722.48" y="1739.84" width="86.94" height="82.08" fill="#bb1b2c"/>
<rect x="812.22" y="1739.84" width="86.94" height="82.08" fill="#b40426"/>
<rect x="901.96" y="1739.84" width="86.94" height="82.08" fill="#e57058"/>
<rect x="94.30" y="1824.72" width="86.94" height="82.08" fill="#7597f6"/>
<rect x="184.04" y="1824.72" width="86.94" height="82.08" fill="#f1ccb8"/>
<rect x="273.78" y="1824.72" width="86.94" height="82.08" fill="#f1ccb8"/>
<rect x="363.52" y="1824.72" width="86.94" height="82.08" fill="#cedaeb"/>
<rect x="453.26" y="1824.72" width="86.94" height="82.08" fill="#e1dad6"/>
<rect x="543.00" y="1824.72" width="86.94" height="82.08" fill="#f7a889"/>
<rect x="632.74" y="1824.72" width="86.94" height="82.08" fill="#e7745b"/>
<rect x="722.48" y="1824.72" width="86.94" height="82.08" fill="#e97a5f"/>
<rect x="812.22" y="1824.72" width="86.94" height="82.08" fill="#e57058"/>
<rect x="901.96" y="1824.72" width="86.94" height="82.08" fill="#b40426"/>
<text class="dj" transform="translate(136.87,1106.64) scale(0.9170,1.0000)" font-size="20.10" text-anchor="middle" fill="#000" stroke="#000" stroke-width="0.15">1</text>
<text class="dj" transform="translate(226.61,1106.64) scale(0.9170,1.0000)" font-size="20.10" text-anchor="middle" fill="#000" stroke="#000" stroke-width="0.15">0.78</text>
<text class="dj" transform="translate(316.35,1106.64) scale(0.9170,1.0000)" font-size="20.10" text-anchor="middle" fill="#000" stroke="#000" stroke-width="0.15">0.78</text>
<text class="dj" transform="translate(406.09,1106.64) scale(0.9170,1.0000)" font-size="20.10" text-anchor="middle" fill="#000" stroke="#000" stroke-width="0.15">0.0098</text>
<text class="dj" transform="translate(495.83,1106.64) scale(0.9170,1.0000)" font-size="20.10" text-anchor="middle" fill="#000" stroke="#000" stroke-width="0.15">-0.005</text>
<text class="dj" transform="translate(585.57,1106.64) scale(0.9170,1.0000)" font-size="20.10" text-anchor="middle" fill="#000" stroke="#000" stroke-width="0.15">-0.015</text>
<text class="dj" transform="translate(675.31,1106.64) scale(0.9170,1.0000)" font-size="20.10" text-anchor="middle" fill="#000" stroke="#000" stroke-width="0.15">0.5</text>
<text class="dj" transform="translate(765.05,1106.64) scale(0.9170,1.0000)" font-size="20.10" text-anchor="middle" fill="#000" stroke="#000" stroke-width="0.15">0.5</text>
<text class="dj" transform="translate(854.79,1106.64) scale(0.9170,1.0000)" font-size="20.10" text-anchor="middle" fill="#000" stroke="#000" stroke-width="0.15">0.44</text>
<text class="dj" transform="translate(944.53,1106.64) scale(0.9170,1.0000)" font-size="20.10" text-anchor="middle" fill="#000" stroke="#000" stroke-width="0.15">0.17</text>
<text class="dj" transform="translate(136.87,1191.52) scale(0.9170,1.0000)" font-size="20.10" text-anchor="middle" fill="#000" stroke="#000" stroke-width="0.15">0.78</text>
<text class="dj" transform="translate(226.61,1191.52) scale(0.9170,1.0000)" font-size="20.10" text-anchor="middle" fill="#000" stroke="#000" stroke-width="0.15">1</text>
<text class="dj" transform="translate(316.35,1191.52) scale(0.9170,1.0000)" font-size="20.10" text-anchor="middle" fill="#000" stroke="#000" stroke-width="0.15">1</text>
<text class="dj" transform="translate(406.09,1191.52) scale(0.9170,1.0000)" font-size="20.10" text-anchor="middle" fill="#000" stroke="#000" stroke-width="0.15">0.12</text>
<text class="dj" transform="translate(495.83,1191.52) scale(0.9170,1.0000)" font-size="20.10" text-anchor="middle" fill="#000" stroke="#000" stroke-width="0.15">0.14</text>
<text class="dj" transform="translate(585.57,1191.52) scale(0.9170,1.0000)" font-size="20.10" text-anchor="middle" fill="#000" stroke="#000" stroke-width="0.15">0.23</text>
<text class="dj" transform="translate(675.31,1191.52) scale(0.9170,1.0000)" font-size="20.10" text-anchor="middle" fill="#000" stroke="#000" stroke-width="0.15">0.9</text>
<text class="dj" transform="translate(765.05,1191.52) scale(0.9170,1.0000)" font-size="20.10" text-anchor="middle" fill="#000" stroke="#000" stroke-width="0.15">0.87</text>
<text class="dj" transform="translate(854.79,1191.52) scale(0.9170,1.0000)" font-size="20.10" text-anchor="middle" fill="#000" stroke="#000" stroke-width="0.15">0.78</text>
<text class="dj" transform="translate(944.53,1191.52) scale(0.9170,1.0000)" font-size="20.10" text-anchor="middle" fill="#000" stroke="#000" stroke-width="0.15">0.59</text>
<text class="dj" transform="translate(136.87,1276.40) scale(0.9170,1.0000)" font-size="20.10" text-anchor="middle" fill="#000" stroke="#000" stroke-width="0.15">0.78</text>
<text class="dj" transform="translate(226.61,1276.40) scale(0.9170,1.0000)" font-size="20.10" text-anchor="middle" fill="#000" stroke="#000" stroke-width="0.15">1</text>
<text class="dj" transform="translate(316.35,1276.40) scale(0.9170,1.0000)" font-size="20.10" text-anchor="middle" fill="#000" stroke="#000" stroke-width="0.15">1</text>
<text class="dj" transform="translate(406.09,1276.40) scale(0.9170,1.0000)" font-size="20.10" text-anchor="middle" fill="#000" stroke="#000" stroke-width="0.15">0.12</text>
<text class="dj" transform="translate(495.83,1276.40) scale(0.9170,1.0000)" font-size="20.10" text-anchor="middle" fill="#000" stroke="#000" stroke-width="0.15">0.14</text>
<text class="dj" transform="translate(585.57,1276.40) scale(0.9170,1.0000)" font-size="20.10" text-anchor="middle" fill="#000" stroke="#000" stroke-width="0.15">0.23</text>
<text class="dj" transform="translate(675.31,1276.40) scale(0.9170,1.0000)" font-size="20.10" text-anchor="middle" fill="#000" stroke="#000" stroke-width="0.15">0.9</text>
<text class="dj" transform="translate(765.05,1276.40) scale(0.9170,1.0000)" font-size="20.10" text-anchor="middle" fill="#000" stroke="#000" stroke-width="0.15">0.87</text>
<text class="dj" transform="translate(854.79,1276.40) scale(0.9170,1.0000)" font-size="20.10" text-anchor="middle" fill="#000" stroke="#000" stroke-width="0.15">0.78</text>
<text class="dj" transform="translate(944.53,1276.40) scale(0.9170,1.0000)" font-size="20.10" text-anchor="middle" fill="#000" stroke="#000" stroke-width="0.15">0.59</text>
<text class="dj" transform="translate(136.87,1361.28) scale(0.9170,1.0000)" font-size="20.10" text-anchor="middle" fill="#000" stroke="#000" stroke-width="0.15">0.0098</text>
<text class="dj" transform="translate(226.61,1361.28) scale(0.9170,1.0000)" font-size="20.10" text-anchor="middle" fill="#000" stroke="#000" stroke-width="0.15">0.12</text>
<text class="dj" transform="translate(316.35,1361.28) scale(0.9170,1.0000)" font-size="20.10" text-anchor="middle" fill="#000" stroke="#000" stroke-width="0.15">0.12</text>
<text class="dj" transform="translate(406.09,1361.28) scale(0.9170,1.0000)" font-size="20.10" text-anchor="middle" fill="#000" stroke="#000" stroke-width="0.15">1</text>
<text class="dj" transform="translate(495.83,1361.28) scale(0.9170,1.0000)" font-size="20.10" text-anchor="middle" fill="#000" stroke="#000" stroke-width="0.15">0.96</text>
<text class="dj" transform="translate(585.57,1361.28) scale(0.9170,1.0000)" font-size="20.10" text-anchor="middle" fill="#000" stroke="#000" stroke-width="0.15">0.79</text>
<text class="dj" transform="translate(675.31,1361.28) scale(0.9170,1.0000)" font-size="20.10" text-anchor="middle" fill="#000" stroke="#000" stroke-width="0.15">0.27</text>
<text class="dj" transform="translate(765.05,1361.28) scale(0.9170,1.0000)" font-size="20.10" text-anchor="middle" fill="#000" stroke="#000" stroke-width="0.15">0.27</text>
<text class="dj" transform="translate(854.79,1361.28) scale(0.9170,1.0000)" font-size="20.10" text-anchor="middle" fill="#000" stroke="#000" stroke-width="0.15">0.34</text>
<text class="dj" transform="translate(944.53,1361.28) scale(0.9170,1.0000)" font-size="20.10" text-anchor="middle" fill="#000" stroke="#000" stroke-width="0.15">0.44</text>
<text class="dj" transform="translate(136.87,1446.16) scale(0.9170,1.0000)" font-size="20.10" text-anchor="middle" fill="#000" stroke="#000" stroke-width="0.15">-0.005</text>
<text class="dj" transform="translate(226.61,1446.16) scale(0.9170,1.0000)" font-size="20.10" text-anchor="middle" fill="#000" stroke="#000" stroke-width="0.15">0.14</text>
<text class="dj" transform="translate(316.35,1446.16) scale(0.9170,1.0000)" font-size="20.10" text-anchor="middle" fill="#000" stroke="#000" stroke-width="0.15">0.14</text>
<text class="dj" transform="translate(406.09,1446.16) scale(0.9170,1.0000)" font-size="20.10" text-anchor="middle" fill="#000" stroke="#000" stroke-width="0.15">0.96</text>
<text class="dj" transform="translate(495.83,1446.16) scale(0.9170,1.0000)" font-size="20.10" text-anchor="middle" fill="#000" stroke="#000" stroke-width="0.15">1</text>
<text class="dj" transform="translate(585.57,1446.16) scale(0.9170,1.0000)" font-size="20.10" text-anchor="middle" fill="#000" stroke="#000" stroke-width="0.15">0.9</text>
<text class="dj" transform="translate(675.31,1446.16) scale(0.9170,1.0000)" font-size="20.10" text-anchor="middle" fill="#000" stroke="#000" stroke-width="0.15">0.32</text>
<text class="dj" transform="translate(765.05,1446.16) scale(0.9170,1.0000)" font-size="20.10" text-anchor="middle" fill="#000" stroke="#000" stroke-width="0.15">0.31</text>
<text class="dj" transform="translate(854.79,1446.16) scale(0.9170,1.0000)" font-size="20.10" text-anchor="middle" fill="#000" stroke="#000" stroke-width="0.15">0.38</text>
<text class="dj" transform="translate(944.53,1446.16) scale(0.9170,1.0000)" font-size="20.10" text-anchor="middle" fill="#000" stroke="#000" stroke-width="0.15">0.51</text>
<text class="dj" transform="translate(136.87,1531.04) scale(0.9170,1.0000)" font-size="20.10" text-anchor="middle" fill="#000" stroke="#000" stroke-width="0.15">-0.015</text>
<text class="dj" transform="translate(226.61,1531.04) scale(0.9170,1.0000)" font-size="20.10" text-anchor="middle" fill="#000" stroke="#000" stroke-width="0.15">0.23</text>
<text class="dj" transform="translate(316.35,1531.04) scale(0.9170,1.0000)" font-size="20.10" text-anchor="middle" fill="#000" stroke="#000" stroke-width="0.15">0.23</text>
<text class="dj" transform="translate(406.09,1531.04) scale(0.9170,1.0000)" font-size="20.10" text-anchor="middle" fill="#000" stroke="#000" stroke-width="0.15">0.79</text>
<text class="dj" transform="translate(495.83,1531.04) scale(0.9170,1.0000)" font-size="20.10" text-anchor="middle" fill="#000" stroke="#000" stroke-width="0.15">0.9</text>
<text class="dj" transform="translate(585.57,1531.04) scale(0.9170,1.0000)" font-size="20.10" text-anchor="middle" fill="#000" stroke="#000" stroke-width="0.15">1</text>
<text class="dj" transform="translate(675.31,1531.04) scale(0.9170,1.0000)" font-size="20.10" text-anchor="middle" fill="#000" stroke="#000" stroke-width="0.15">0.47</text>
<text class="dj" transform="translate(765.05,1531.04) scale(0.9170,1.0000)" font-size="20.10" text-anchor="middle" fill="#000" stroke="#000" stroke-width="0.15">0.45</text>
<text class="dj" transform="translate(854.79,1531.04) scale(0.9170,1.0000)" font-size="20.10" text-anchor="middle" fill="#000" stroke="#000" stroke-width="0.15">0.53</text>
<text class="dj" transform="translate(944.53,1531.04) scale(0.9170,1.0000)" font-size="20.10" text-anchor="middle" fill="#000" stroke="#000" stroke-width="0.15">0.71</text>
<text class="dj" transform="translate(136.87,1615.92) scale(0.9170,1.0000)" font-size="20.10" text-anchor="middle" fill="#000" stroke="#000" stroke-width="0.15">0.5</text>
<text class="dj" transform="translate(226.61,1615.92) scale(0.9170,1.0000)" font-size="20.10" text-anchor="middle" fill="#000" stroke="#000" stroke-width="0.15">0.9</text>
<text class="dj" transform="translate(316.35,1615.92) scale(0.9170,1.0000)" font-size="20.10" text-anchor="middle" fill="#000" stroke="#000" stroke-width="0.15">0.9</text>
<text class="dj" transform="translate(406.09,1615.92) scale(0.9170,1.0000)" font-size="20.10" text-anchor="middle" fill="#000" stroke="#000" stroke-width="0.15">0.27</text>
<text class="dj" transform="translate(495.83,1615.92) scale(0.9170,1.0000)" font-size="20.10" text-anchor="middle" fill="#000" stroke="#000" stroke-width="0.15">0.32</text>
<text class="dj" transform="translate(585.57,1615.92) scale(0.9170,1.0000)" font-size="20.10" text-anchor="middle" fill="#000" stroke="#000" stroke-width="0.15">0.47</text>
<text class="dj" transform="translate(675.31,1615.92) scale(0.9170,1.0000)" font-size="20.10" text-anchor="middle" fill="#000" stroke="#000" stroke-width="0.15">1</text>
<text class="dj" transform="translate(765.05,1615.92) scale(0.9170,1.0000)" font-size="20.10" text-anchor="middle" fill="#000" stroke="#000" stroke-width="0.15">0.99</text>
<text class="dj" transform="translate(854.79,1615.92) scale(0.9170,1.0000)" font-size="20.10" text-anchor="middle" fill="#000" stroke="#000" stroke-width="0.15">0.95</text>
<text class="dj" transform="translate(944.53,1615.92) scale(0.9170,1.0000)" font-size="20.10" text-anchor="middle" fill="#000" stroke="#000" stroke-width="0.15">0.83</text>
<text class="dj" transform="translate(136.87,1700.80) scale(0.9170,1.0000)" font-size="20.10" text-anchor="middle" fill="#000" stroke="#000" stroke-width="0.15">0.5</text>
<text class="dj" transform="translate(226.61,1700.80) scale(0.9170,1.0000)" font-size="20.10" text-anchor="middle" fill="#000" stroke="#000" stroke-width="0.15">0.87</text>
<text class="dj" transform="translate(316.35,1700.80) scale(0.9170,1.0000)" font-size="20.10" text-anchor="middle" fill="#000" stroke="#000" stroke-width="0.15">0.87</text>
<text class="dj" transform="translate(406.09,1700.80) scale(0.9170,1.0000)" font-size="20.10" text-anchor="middle" fill="#000" stroke="#000" stroke-width="0.15">0.27</text>
<text class="dj" transform="translate(495.83,1700.80) scale(0.9170,1.0000)" font-size="20.10" text-anchor="middle" fill="#000" stroke="#000" stroke-width="0.15">0.31</text>
<text class="dj" transform="translate(585.57,1700.80) scale(0.9170,1.0000)" font-size="20.10" text-anchor="middle" fill="#000" stroke="#000" stroke-width="0.15">0.45</text>
<text class="dj" transform="translate(675.31,1700.80) scale(0.9170,1.0000)" font-size="20.10" text-anchor="middle" fill="#000" stroke="#000" stroke-width="0.15">0.99</text>
<text class="dj" transform="translate(765.05,1700.80) scale(0.9170,1.0000)" font-size="20.10" text-anchor="middle" fill="#000" stroke="#000" stroke-width="0.15">1</text>
<text class="dj" transform="translate(854.79,1700.80) scale(0.9170,1.0000)" font-size="20.10" text-anchor="middle" fill="#000" stroke="#000" stroke-width="0.15">0.98</text>
<text class="dj" transform="translate(944.53,1700.80) scale(0.9170,1.0000)" font-size="20.10" text-anchor="middle" fill="#000" stroke="#000" stroke-width="0.15">0.82</text>
<text class="dj" transform="translate(136.87,1785.68) scale(0.9170,1.0000)" font-size="20.10" text-anchor="middle" fill="#000" stroke="#000" stroke-width="0.15">0.44</text>
<text class="dj" transform="translate(226.61,1785.68) scale(0.9170,1.0000)" font-size="20.10" text-anchor="middle" fill="#000" stroke="#000" stroke-width="0.15">0.78</text>
<text class="dj" transform="translate(316.35,1785.68) scale(0.9170,1.0000)" font-size="20.10" text-anchor="middle" fill="#000" stroke="#000" stroke-width="0.15">0.78</text>
<text class="dj" transform="translate(406.09,1785.68) scale(0.9170,1.0000)" font-size="20.10" text-anchor="middle" fill="#000" stroke="#000" stroke-width="0.15">0.34</text>
<text class="dj" transform="translate(495.83,1785.68) scale(0.9170,1.0000)" font-size="20.10" text-anchor="middle" fill="#000" stroke="#000" stroke-width="0.15">0.38</text>
<text class="dj" transform="translate(585.57,1785.68) scale(0.9170,1.0000)" font-size="20.10" text-anchor="middle" fill="#000" stroke="#000" stroke-width="0.15">0.53</text>
<text class="dj" transform="translate(675.31,1785.68) scale(0.9170,1.0000)" font-size="20.10" text-anchor="middle" fill="#000" stroke="#000" stroke-width="0.15">0.95</text>
<text class="dj" transform="translate(765.05,1785.68) scale(0.9170,1.0000)" font-size="20.10" text-anchor="middle" fill="#000" stroke="#000" stroke-width="0.15">0.98</text>
<text class="dj" transform="translate(854.79,1785.68) scale(0.9170,1.0000)" font-size="20.10" text-anchor="middle" fill="#000" stroke="#000" stroke-width="0.15">1</text>
<text class="dj" transform="translate(944.53,1785.68) scale(0.9170,1.0000)" font-size="20.10" text-anchor="middle" fill="#000" stroke="#000" stroke-width="0.15">0.84</text>
<text class="dj" transform="translate(136.87,1870.56) scale(0.9170,1.0000)" font-size="20.10" text-anchor="middle" fill="#000" stroke="#000" stroke-width="0.15">0.17</text>
<text class="dj" transform="translate(226.61,1870.56) scale(0.9170,1.0000)" font-size="20.10" text-anchor="middle" fill="#000" stroke="#000" stroke-width="0.15">0.59</text>
<text class="dj" transform="translate(316.35,1870.56) scale(0.9170,1.0000)" font-size="20.10" text-anchor="middle" fill="#000" stroke="#000" stroke-width="0.15">0.59</text>
<text class="dj" transform="translate(406.09,1870.56) scale(0.9170,1.0000)" font-size="20.10" text-anchor="middle" fill="#000" stroke="#000" stroke-width="0.15">0.44</text>
<text class="dj" transform="translate(495.83,1870.56) scale(0.9170,1.0000)" font-size="20.10" text-anchor="middle" fill="#000" stroke="#000" stroke-width="0.15">0.51</text>
<text class="dj" transform="translate(585.57,1870.56) scale(0.9170,1.0000)" font-size="20.10" text-anchor="middle" fill="#000" stroke="#000" stroke-width="0.15">0.71</text>
<text class="dj" transform="translate(675.31,1870.56) scale(0.9170,1.0000)" font-size="20.10" text-anchor="middle" fill="#000" stroke="#000" stroke-width="0.15">0.83</text>
<text class="dj" transform="translate(765.05,1870.56) scale(0.9170,1.0000)" font-size="20.10" text-anchor="middle" fill="#000" stroke="#000" stroke-width="0.15">0.82</text>
<text class="dj" transform="translate(854.79,1870.56) scale(0.9170,1.0000)" font-size="20.10" text-anchor="middle" fill="#000" stroke="#000" stroke-width="0.15">0.84</text>
<text class="dj" transform="translate(944.53,1870.56) scale(0.9170,1.0000)" font-size="20.10" text-anchor="middle" fill="#000" stroke="#000" stroke-width="0.15">1</text>
<line x1="88.00" y1="1101.84" x2="92.70" y2="1101.84" stroke="#000" stroke-width="1.05"/>
<text class="dj" transform="translate(83.20,1106.64) scale(0.9170,1.0000)" font-size="20.10" text-anchor="end" fill="#000" stroke="#000" stroke-width="0.15">BTOA-6</text>
<line x1="88.00" y1="1186.72" x2="92.70" y2="1186.72" stroke="#000" stroke-width="1.05"/>
<text class="dj" transform="translate(83.20,1191.52) scale(0.9170,1.0000)" font-size="20.10" text-anchor="end" fill="#000" stroke="#000" stroke-width="0.15">BTOA-7</text>
<line x1="88.00" y1="1271.60" x2="92.70" y2="1271.60" stroke="#000" stroke-width="1.05"/>
<text class="dj" transform="translate(83.20,1276.40) scale(0.9170,1.0000)" font-size="20.10" text-anchor="end" fill="#000" stroke="#000" stroke-width="0.15">BTOA-8</text>
<line x1="88.00" y1="1356.48" x2="92.70" y2="1356.48" stroke="#000" stroke-width="1.05"/>
<text class="dj" transform="translate(83.20,1361.28) scale(0.9170,1.0000)" font-size="20.10" text-anchor="end" fill="#000" stroke="#000" stroke-width="0.15">BTOA-9</text>
<line x1="88.00" y1="1441.36" x2="92.70" y2="1441.36" stroke="#000" stroke-width="1.05"/>
<text class="dj" transform="translate(83.20,1446.16) scale(0.9170,1.0000)" font-size="20.10" text-anchor="end" fill="#000" stroke="#000" stroke-width="0.15">BTOA-10</text>
<line x1="88.00" y1="1526.24" x2="92.70" y2="1526.24" stroke="#000" stroke-width="1.05"/>
<text class="dj" transform="translate(83.20,1531.04) scale(0.9170,1.0000)" font-size="20.10" text-anchor="end" fill="#000" stroke="#000" stroke-width="0.15">BTOA-11</text>
<line x1="88.00" y1="1611.12" x2="92.70" y2="1611.12" stroke="#000" stroke-width="1.05"/>
<text class="dj" transform="translate(83.20,1615.92) scale(0.9170,1.0000)" font-size="20.10" text-anchor="end" fill="#000" stroke="#000" stroke-width="0.15">BTOA-12</text>
<line x1="88.00" y1="1696.00" x2="92.70" y2="1696.00" stroke="#000" stroke-width="1.05"/>
<text class="dj" transform="translate(83.20,1700.80) scale(0.9170,1.0000)" font-size="20.10" text-anchor="end" fill="#000" stroke="#000" stroke-width="0.15">BTOA-13</text>
<line x1="88.00" y1="1780.88" x2="92.70" y2="1780.88" stroke="#000" stroke-width="1.05"/>
<text class="dj" transform="translate(83.20,1785.68) scale(0.9170,1.0000)" font-size="20.10" text-anchor="end" fill="#000" stroke="#000" stroke-width="0.15">BTOA-14</text>
<line x1="88.00" y1="1865.76" x2="92.70" y2="1865.76" stroke="#000" stroke-width="1.05"/>
<text class="dj" transform="translate(83.20,1870.56) scale(0.9170,1.0000)" font-size="20.10" text-anchor="end" fill="#000" stroke="#000" stroke-width="0.15">BTOA-15</text>
<line x1="137.77" y1="1908.40" x2="137.77" y2="1913.10" stroke="#000" stroke-width="1.05"/>
<text class="dj" transform="translate(143.67,1919.50) rotate(-90) scale(0.9680,1.0000)" font-size="19.70" text-anchor="end" fill="#000" stroke="#000" stroke-width="0.15">BTOA-6</text>
<line x1="227.51" y1="1908.40" x2="227.51" y2="1913.10" stroke="#000" stroke-width="1.05"/>
<text class="dj" transform="translate(233.41,1919.50) rotate(-90) scale(0.9680,1.0000)" font-size="19.70" text-anchor="end" fill="#000" stroke="#000" stroke-width="0.15">BTOA-7</text>
<line x1="317.25" y1="1908.40" x2="317.25" y2="1913.10" stroke="#000" stroke-width="1.05"/>
<text class="dj" transform="translate(323.15,1919.50) rotate(-90) scale(0.9680,1.0000)" font-size="19.70" text-anchor="end" fill="#000" stroke="#000" stroke-width="0.15">BTOA-8</text>
<line x1="406.99" y1="1908.40" x2="406.99" y2="1913.10" stroke="#000" stroke-width="1.05"/>
<text class="dj" transform="translate(412.89,1919.50) rotate(-90) scale(0.9680,1.0000)" font-size="19.70" text-anchor="end" fill="#000" stroke="#000" stroke-width="0.15">BTOA-9</text>
<line x1="496.73" y1="1908.40" x2="496.73" y2="1913.10" stroke="#000" stroke-width="1.05"/>
<text class="dj" transform="translate(502.63,1919.50) rotate(-90) scale(0.9680,1.0000)" font-size="19.70" text-anchor="end" fill="#000" stroke="#000" stroke-width="0.15">BTOA-10</text>
<line x1="586.47" y1="1908.40" x2="586.47" y2="1913.10" stroke="#000" stroke-width="1.05"/>
<text class="dj" transform="translate(592.37,1919.50) rotate(-90) scale(0.9680,1.0000)" font-size="19.70" text-anchor="end" fill="#000" stroke="#000" stroke-width="0.15">BTOA-11</text>
<line x1="676.21" y1="1908.40" x2="676.21" y2="1913.10" stroke="#000" stroke-width="1.05"/>
<text class="dj" transform="translate(682.11,1919.50) rotate(-90) scale(0.9680,1.0000)" font-size="19.70" text-anchor="end" fill="#000" stroke="#000" stroke-width="0.15">BTOA-12</text>
<line x1="765.95" y1="1908.40" x2="765.95" y2="1913.10" stroke="#000" stroke-width="1.05"/>
<text class="dj" transform="translate(771.85,1919.50) rotate(-90) scale(0.9680,1.0000)" font-size="19.70" text-anchor="end" fill="#000" stroke="#000" stroke-width="0.15">BTOA-13</text>
<line x1="855.69" y1="1908.40" x2="855.69" y2="1913.10" stroke="#000" stroke-width="1.05"/>
<text class="dj" transform="translate(861.59,1919.50) rotate(-90) scale(0.9680,1.0000)" font-size="19.70" text-anchor="end" fill="#000" stroke="#000" stroke-width="0.15">BTOA-14</text>
<line x1="945.43" y1="1908.40" x2="945.43" y2="1913.10" stroke="#000" stroke-width="1.05"/>
<text class="dj" transform="translate(951.33,1919.50) rotate(-90) scale(0.9680,1.0000)" font-size="19.70" text-anchor="end" fill="#000" stroke="#000" stroke-width="0.15">BTOA-15</text>
<text class="dj" transform="translate(541.80,1050.90) scale(0.9400,1.0000)" font-size="26.40" text-anchor="middle" fill="#000" stroke="#000" stroke-width="0.15">FY-4B Correlation Heatmap</text>
<defs><linearGradient id="gb" x1="0" y1="0" x2="0" y2="1"><stop offset="0.0000" stop-color="#b40426"/><stop offset="0.0156" stop-color="#b8122a"/><stop offset="0.0312" stop-color="#be242e"/><stop offset="0.0469" stop-color="#c43032"/><stop offset="0.0625" stop-color="#ca3b37"/><stop offset="0.0781" stop-color="#cf453c"/><stop offset="0.0938" stop-color="#d44e41"/><stop offset="0.1094" stop-color="#d85646"/><stop offset="0.1250" stop-color="#dd5f4b"/><stop offset="0.1406" stop-color="#e16751"/><stop offset="0.1562" stop-color="#e46e56"/><stop offset="0.1719" stop-color="#e8765c"/><stop offset="0.1875" stop-color="#eb7d62"/><stop offset="0.2031" stop-color="#ee8468"/><stop offset="0.2188" stop-color="#f08b6e"/><stop offset="0.2344" stop-color="#f29274"/><stop offset="0.2500" stop-color="#f4987a"/><stop offset="0.2656" stop-color="#f59f80"/><stop offset="0.2812" stop-color="#f6a586"/><stop offset="0.2969" stop-color="#f7aa8c"/><stop offset="0.3125" stop-color="#f7b093"/><stop offset="0.3281" stop-color="#f7b599"/><stop offset="0.3438" stop-color="#f7ba9f"/><stop offset="0.3594" stop-color="#f6bfa6"/><stop offset="0.3750" stop-color="#f5c4ac"/><stop offset="0.3906" stop-color="#f3c8b2"/><stop offset="0.4062" stop-color="#f1ccb8"/><stop offset="0.4219" stop-color="#efcfbf"/><stop offset="0.4375" stop-color="#ecd3c5"/><stop offset="0.4531" stop-color="#e9d5cb"/><stop offset="0.4688" stop-color="#e5d8d1"/><stop offset="0.4844" stop-color="#e1dad6"/><stop offset="0.5000" stop-color="#dddcdc"/><stop offset="0.5156" stop-color="#d9dce1"/><stop offset="0.5312" stop-color="#d5dbe5"/><stop offset="0.5469" stop-color="#d1dae9"/><stop offset="0.5625" stop-color="#ccd9ed"/><stop offset="0.5781" stop-color="#c7d7f0"/><stop offset="0.5938" stop-color="#c3d5f4"/><stop offset="0.6094" stop-color="#bed2f6"/><stop offset="0.6250" stop-color="#b9d0f9"/><stop offset="0.6406" stop-color="#b3cdfb"/><stop offset="0.6562" stop-color="#aec9fc"/><stop offset="0.6719" stop-color="#a9c6fd"/><stop offset="0.6875" stop-color="#a3c2fe"/><stop offset="0.7031" stop-color="#9ebeff"/><stop offset="0.7188" stop-color="#98b9ff"/><stop offset="0.7344" stop-color="#93b5fe"/><stop offset="0.7500" stop-color="#8db0fe"/><stop offset="0.7656" stop-color="#88abfd"/><stop offset="0.7812" stop-color="#82a6fb"/><stop offset="0.7969" stop-color="#7da0f9"/><stop offset="0.8125" stop-color="#779af7"/><stop offset="0.8281" stop-color="#7295f4"/><stop offset="0.8438" stop-color="#6c8ff1"/><stop offset="0.8594" stop-color="#6788ee"/><stop offset="0.8750" stop-color="#6282ea"/><stop offset="0.8906" stop-color="#5d7ce6"/><stop offset="0.9062" stop-color="#5875e1"/><stop offset="0.9219" stop-color="#536edd"/><stop offset="0.9375" stop-color="#4e68d8"/><stop offset="0.9531" stop-color="#4961d2"/><stop offset="0.9688" stop-color="#445acc"/><stop offset="0.9844" stop-color="#3f53c6"/><stop offset="1.0000" stop-color="#3b4cc0"/></linearGradient></defs>
<rect x="1018.90" y="1059.40" width="41.00" height="848.80" fill="url(#gb)"/>
<line x1="1060.10" y1="1896.40" x2="1064.90" y2="1896.40" stroke="#000" stroke-width="1.05"/>
<text class="dj" transform="translate(1068.80,1903.40) scale(0.9150,1.0000)" font-size="20.00" text-anchor="start" fill="#000" stroke="#000" stroke-width="0.15">0.0</text>
<line x1="1060.10" y1="1729.00" x2="1064.90" y2="1729.00" stroke="#000" stroke-width="1.05"/>
<text class="dj" transform="translate(1068.80,1736.00) scale(0.9150,1.0000)" font-size="20.00" text-anchor="start" fill="#000" stroke="#000" stroke-width="0.15">0.2</text>
<line x1="1060.10" y1="1561.60" x2="1064.90" y2="1561.60" stroke="#000" stroke-width="1.05"/>
<text class="dj" transform="translate(1068.80,1568.60) scale(0.9150,1.0000)" font-size="20.00" text-anchor="start" fill="#000" stroke="#000" stroke-width="0.15">0.4</text>
<line x1="1060.10" y1="1394.20" x2="1064.90" y2="1394.20" stroke="#000" stroke-width="1.05"/>
<text class="dj" transform="translate(1068.80,1401.20) scale(0.9150,1.0000)" font-size="20.00" text-anchor="start" fill="#000" stroke="#000" stroke-width="0.15">0.6</text>
<line x1="1060.10" y1="1226.80" x2="1064.90" y2="1226.80" stroke="#000" stroke-width="1.05"/>
<text class="dj" transform="translate(1068.80,1233.80) scale(0.9150,1.0000)" font-size="20.00" text-anchor="start" fill="#000" stroke="#000" stroke-width="0.15">0.8</text>
<line x1="1060.10" y1="1059.40" x2="1064.90" y2="1059.40" stroke="#000" stroke-width="1.05"/>
<text class="dj" transform="translate(1068.80,1066.40) scale(0.9150,1.0000)" font-size="20.00" text-anchor="start" fill="#000" stroke="#000" stroke-width="0.15">1.0</text>
</g>
<g>
<rect x="1272.30" y="77.86" width="73.40" height="37.77" fill="#a5c9a5"/>
<rect x="1272.30" y="132.60" width="78.39" height="37.77" fill="#e2b54c"/>
<rect x="1272.30" y="187.35" width="87.66" height="37.77" fill="#e2b54c"/>
<rect x="1272.30" y="242.09" width="91.93" height="37.77" fill="#a5c9a5"/>
<rect x="1272.30" y="296.83" width="99.06" height="37.77" fill="#e2b54c"/>
<rect x="1272.30" y="351.58" width="145.38" height="37.77" fill="#e2b54c"/>
<rect x="1272.30" y="406.32" width="156.78" height="37.77" fill="#6b9bc5"/>
<rect x="1272.30" y="461.06" width="183.86" height="37.77" fill="#a5c9a5"/>
<rect x="1272.30" y="515.81" width="191.70" height="37.77" fill="#e2b54c"/>
<rect x="1272.30" y="570.55" width="238.03" height="37.77" fill="#6b9bc5"/>
<rect x="1272.30" y="625.29" width="254.42" height="37.77" fill="#a5c9a5"/>
<rect x="1272.30" y="680.04" width="259.40" height="37.77" fill="#6b9bc5"/>
<rect x="1272.30" y="734.78" width="293.61" height="37.77" fill="#a5c9a5"/>
<rect x="1272.30" y="789.52" width="572.26" height="37.77" fill="#6b9bc5"/>
<rect x="1272.30" y="844.27" width="634.97" height="37.77" fill="#6b9bc5"/>
<rect x="1272.30" y="37.10" width="712.65" height="885.20" fill="none" stroke="#1c1c1c" stroke-width="1.5"/>
<line x1="1266.50" y1="96.50" x2="1272.30" y2="96.50" stroke="#1c1c1c" stroke-width="1.5"/>
<text class="ls" transform="translate(1261.20,105.30)" font-size="24.00" text-anchor="end" fill="#000" stroke="#000" stroke-width="0.2">WD</text>
<text class="ls" transform="translate(1346.10,97.00) scale(0.9750,1.0000)" font-size="16.00" text-anchor="start" fill="#000" stroke="#000" stroke-width="0.2">1.03</text>
<line x1="1266.50" y1="151.24" x2="1272.30" y2="151.24" stroke="#1c1c1c" stroke-width="1.5"/>
<text class="ls" transform="translate(1261.20,160.04)" font-size="24.00" text-anchor="end" fill="#000" stroke="#000" stroke-width="0.2">LUCC</text>
<text class="ls" transform="translate(1351.09,151.74) scale(0.9750,1.0000)" font-size="16.00" text-anchor="start" fill="#000" stroke="#000" stroke-width="0.2">1.1</text>
<line x1="1266.50" y1="205.98" x2="1272.30" y2="205.98" stroke="#1c1c1c" stroke-width="1.5"/>
<text class="ls" transform="translate(1261.20,214.78)" font-size="24.00" text-anchor="end" fill="#000" stroke="#000" stroke-width="0.2">TIME</text>
<text class="ls" transform="translate(1360.36,206.48) scale(0.9750,1.0000)" font-size="16.00" text-anchor="start" fill="#000" stroke="#000" stroke-width="0.2">1.23</text>
<line x1="1266.50" y1="260.73" x2="1272.30" y2="260.73" stroke="#1c1c1c" stroke-width="1.5"/>
<text class="ls" transform="translate(1261.20,269.53)" font-size="24.00" text-anchor="end" fill="#000" stroke="#000" stroke-width="0.2">WS</text>
<text class="ls" transform="translate(1364.63,261.23) scale(0.9750,1.0000)" font-size="16.00" text-anchor="start" fill="#000" stroke="#000" stroke-width="0.2">1.29</text>
<line x1="1266.50" y1="315.47" x2="1272.30" y2="315.47" stroke="#1c1c1c" stroke-width="1.5"/>
<text class="ls" transform="translate(1261.20,324.27)" font-size="24.00" text-anchor="end" fill="#000" stroke="#000" stroke-width="0.2">LH</text>
<text class="ls" transform="translate(1371.76,315.97) scale(0.9750,1.0000)" font-size="16.00" text-anchor="start" fill="#000" stroke="#000" stroke-width="0.2">1.39</text>
<line x1="1266.50" y1="370.21" x2="1272.30" y2="370.21" stroke="#1c1c1c" stroke-width="1.5"/>
<text class="ls" transform="translate(1261.20,379.01)" font-size="24.00" text-anchor="end" fill="#000" stroke="#000" stroke-width="0.2">LL</text>
<text class="ls" transform="translate(1418.08,370.71) scale(0.9750,1.0000)" font-size="16.00" text-anchor="start" fill="#000" stroke="#000" stroke-width="0.2">2.04</text>
<line x1="1266.50" y1="424.96" x2="1272.30" y2="424.96" stroke="#1c1c1c" stroke-width="1.5"/>
<text class="ls" transform="translate(1261.20,433.76)" font-size="24.00" text-anchor="end" fill="#000" stroke="#000" stroke-width="0.2">ATOA-6</text>
<text class="ls" transform="translate(1429.48,425.46) scale(0.9750,1.0000)" font-size="16.00" text-anchor="start" fill="#000" stroke="#000" stroke-width="0.2">2.2</text>
<line x1="1266.50" y1="479.70" x2="1272.30" y2="479.70" stroke="#1c1c1c" stroke-width="1.5"/>
<text class="ls" transform="translate(1261.20,488.50)" font-size="24.00" text-anchor="end" fill="#000" stroke="#000" stroke-width="0.2">RH</text>
<text class="ls" transform="translate(1456.56,480.20) scale(0.9750,1.0000)" font-size="16.00" text-anchor="start" fill="#000" stroke="#000" stroke-width="0.2">2.58</text>
<line x1="1266.50" y1="534.44" x2="1272.30" y2="534.44" stroke="#1c1c1c" stroke-width="1.5"/>
<text class="ls" transform="translate(1261.20,543.24)" font-size="24.00" text-anchor="end" fill="#000" stroke="#000" stroke-width="0.2">HIEGHT</text>
<text class="ls" transform="translate(1464.40,534.94) scale(0.9750,1.0000)" font-size="16.00" text-anchor="start" fill="#000" stroke="#000" stroke-width="0.2">2.69</text>
<line x1="1266.50" y1="589.19" x2="1272.30" y2="589.19" stroke="#1c1c1c" stroke-width="1.5"/>
<text class="ls" transform="translate(1261.20,597.99)" font-size="24.00" text-anchor="end" fill="#000" stroke="#000" stroke-width="0.2">ATOA-14</text>
<text class="ls" transform="translate(1510.73,589.69) scale(0.9750,1.0000)" font-size="16.00" text-anchor="start" fill="#000" stroke="#000" stroke-width="0.2">3.34</text>
<line x1="1266.50" y1="643.93" x2="1272.30" y2="643.93" stroke="#1c1c1c" stroke-width="1.5"/>
<text class="ls" transform="translate(1261.20,652.73)" font-size="24.00" text-anchor="end" fill="#000" stroke="#000" stroke-width="0.2">BLH</text>
<text class="ls" transform="translate(1527.12,644.43) scale(0.9750,1.0000)" font-size="16.00" text-anchor="start" fill="#000" stroke="#000" stroke-width="0.2">3.57</text>
<line x1="1266.50" y1="698.67" x2="1272.30" y2="698.67" stroke="#1c1c1c" stroke-width="1.5"/>
<text class="ls" transform="translate(1261.20,707.47)" font-size="24.00" text-anchor="end" fill="#000" stroke="#000" stroke-width="0.2">ATOA-13</text>
<text class="ls" transform="translate(1532.10,699.17) scale(0.9750,1.0000)" font-size="16.00" text-anchor="start" fill="#000" stroke="#000" stroke-width="0.2">3.64</text>
<line x1="1266.50" y1="753.42" x2="1272.30" y2="753.42" stroke="#1c1c1c" stroke-width="1.5"/>
<text class="ls" transform="translate(1261.20,762.22)" font-size="24.00" text-anchor="end" fill="#000" stroke="#000" stroke-width="0.2">TM</text>
<text class="ls" transform="translate(1566.31,753.92) scale(0.9750,1.0000)" font-size="16.00" text-anchor="start" fill="#000" stroke="#000" stroke-width="0.2">4.12</text>
<line x1="1266.50" y1="808.16" x2="1272.30" y2="808.16" stroke="#1c1c1c" stroke-width="1.5"/>
<text class="ls" transform="translate(1261.20,816.96)" font-size="24.00" text-anchor="end" fill="#000" stroke="#000" stroke-width="0.2">ATOA-9</text>
<text class="ls" transform="translate(1844.96,808.66) scale(0.9750,1.0000)" font-size="16.00" text-anchor="start" fill="#000" stroke="#000" stroke-width="0.2">8.03</text>
<line x1="1266.50" y1="862.90" x2="1272.30" y2="862.90" stroke="#1c1c1c" stroke-width="1.5"/>
<text class="ls" transform="translate(1261.20,871.70)" font-size="24.00" text-anchor="end" fill="#000" stroke="#000" stroke-width="0.2">ATOA-10</text>
<text class="ls" transform="translate(1907.67,863.40) scale(0.9750,1.0000)" font-size="16.00" text-anchor="start" fill="#000" stroke="#000" stroke-width="0.2">8.91</text>
<line x1="1272.30" y1="922.30" x2="1272.30" y2="928.10" stroke="#1c1c1c" stroke-width="1.5"/>
<text class="ls" transform="translate(1272.30,951.10)" font-size="24.00" text-anchor="middle" fill="#000" stroke="#000" stroke-width="0.2">0</text>
<line x1="1414.83" y1="922.30" x2="1414.83" y2="928.10" stroke="#1c1c1c" stroke-width="1.5"/>
<text class="ls" transform="translate(1414.83,951.10)" font-size="24.00" text-anchor="middle" fill="#000" stroke="#000" stroke-width="0.2">2</text>
<line x1="1557.36" y1="922.30" x2="1557.36" y2="928.10" stroke="#1c1c1c" stroke-width="1.5"/>
<text class="ls" transform="translate(1557.36,951.10)" font-size="24.00" text-anchor="middle" fill="#000" stroke="#000" stroke-width="0.2">4</text>
<line x1="1699.89" y1="922.30" x2="1699.89" y2="928.10" stroke="#1c1c1c" stroke-width="1.5"/>
<text class="ls" transform="translate(1699.89,951.10)" font-size="24.00" text-anchor="middle" fill="#000" stroke="#000" stroke-width="0.2">6</text>
<line x1="1842.42" y1="922.30" x2="1842.42" y2="928.10" stroke="#1c1c1c" stroke-width="1.5"/>
<text class="ls" transform="translate(1842.42,951.10)" font-size="24.00" text-anchor="middle" fill="#000" stroke="#000" stroke-width="0.2">8</text>
<line x1="1984.95" y1="922.30" x2="1984.95" y2="928.10" stroke="#1c1c1c" stroke-width="1.5"/>
<text class="ls" transform="translate(1984.95,951.10)" font-size="24.00" text-anchor="middle" fill="#000" stroke="#000" stroke-width="0.2">10</text>
<text class="ls" transform="translate(1628.62,978.60)" font-size="24.00" text-anchor="middle" fill="#000" stroke="#000" stroke-width="0.2">FY-4A input variables VIF value</text>
<text class="ls" transform="translate(1150.20,479.70) rotate(-90)" font-size="24.00" text-anchor="middle" fill="#000" stroke="#000" stroke-width="0.2">Input variables</text>
</g>
<g>
<rect x="1275.00" y="1099.37" width="72.73" height="37.41" fill="#a5c9a5"/>
<rect x="1275.00" y="1153.58" width="77.67" height="37.41" fill="#e2b54c"/>
<rect x="1275.00" y="1207.79" width="86.14" height="37.41" fill="#e2b54c"/>
<rect x="1275.00" y="1262.00" width="91.09" height="37.41" fill="#a5c9a5"/>
<rect x="1275.00" y="1316.21" width="98.85" height="37.41" fill="#e2b54c"/>
<rect x="1275.00" y="1370.42" width="144.75" height="37.41" fill="#6b9bc5"/>
<rect x="1275.00" y="1424.64" width="145.46" height="37.41" fill="#e2b54c"/>
<rect x="1275.00" y="1478.85" width="151.11" height="37.41" fill="#e2b54c"/>
<rect x="1275.00" y="1533.06" width="201.94" height="37.41" fill="#a5c9a5"/>
<rect x="1275.00" y="1587.27" width="213.95" height="37.41" fill="#6b9bc5"/>
<rect x="1275.00" y="1641.48" width="229.48" height="37.41" fill="#a5c9a5"/>
<rect x="1275.00" y="1695.69" width="239.37" height="37.41" fill="#a5c9a5"/>
<rect x="1275.00" y="1749.90" width="370.00" height="37.41" fill="#6b9bc5"/>
<rect x="1275.00" y="1804.12" width="607.25" height="37.41" fill="#6b9bc5"/>
<rect x="1275.00" y="1858.33" width="663.73" height="37.41" fill="#6b9bc5"/>
<rect x="1275.00" y="1059.00" width="706.10" height="876.60" fill="none" stroke="#1c1c1c" stroke-width="1.5"/>
<line x1="1269.20" y1="1117.82" x2="1275.00" y2="1117.82" stroke="#1c1c1c" stroke-width="1.5"/>
<text class="ls" transform="translate(1263.90,1126.32)" font-size="23.78" text-anchor="end" fill="#000" stroke="#000" stroke-width="0.2">WD</text>
<text class="ls" transform="translate(1348.13,1118.22) scale(0.9750,1.0000)" font-size="15.86" text-anchor="start" fill="#000" stroke="#000" stroke-width="0.2">1.03</text>
<line x1="1269.20" y1="1172.03" x2="1275.00" y2="1172.03" stroke="#1c1c1c" stroke-width="1.5"/>
<text class="ls" transform="translate(1263.90,1180.53)" font-size="23.78" text-anchor="end" fill="#000" stroke="#000" stroke-width="0.2">LUCC</text>
<text class="ls" transform="translate(1353.07,1172.43) scale(0.9750,1.0000)" font-size="15.86" text-anchor="start" fill="#000" stroke="#000" stroke-width="0.2">1.1</text>
<line x1="1269.20" y1="1226.24" x2="1275.00" y2="1226.24" stroke="#1c1c1c" stroke-width="1.5"/>
<text class="ls" transform="translate(1263.90,1234.74)" font-size="23.78" text-anchor="end" fill="#000" stroke="#000" stroke-width="0.2">TIME</text>
<text class="ls" transform="translate(1361.54,1226.64) scale(0.9750,1.0000)" font-size="15.86" text-anchor="start" fill="#000" stroke="#000" stroke-width="0.2">1.22</text>
<line x1="1269.20" y1="1280.45" x2="1275.00" y2="1280.45" stroke="#1c1c1c" stroke-width="1.5"/>
<text class="ls" transform="translate(1263.90,1288.95)" font-size="23.78" text-anchor="end" fill="#000" stroke="#000" stroke-width="0.2">WS</text>
<text class="ls" transform="translate(1366.49,1280.85) scale(0.9750,1.0000)" font-size="15.86" text-anchor="start" fill="#000" stroke="#000" stroke-width="0.2">1.29</text>
<line x1="1269.20" y1="1334.67" x2="1275.00" y2="1334.67" stroke="#1c1c1c" stroke-width="1.5"/>
<text class="ls" transform="translate(1263.90,1343.17)" font-size="23.78" text-anchor="end" fill="#000" stroke="#000" stroke-width="0.2">LH</text>
<text class="ls" transform="translate(1374.25,1335.07) scale(0.9750,1.0000)" font-size="15.86" text-anchor="start" fill="#000" stroke="#000" stroke-width="0.2">1.4</text>
<line x1="1269.20" y1="1388.88" x2="1275.00" y2="1388.88" stroke="#1c1c1c" stroke-width="1.5"/>
<text class="ls" transform="translate(1263.90,1397.38)" font-size="23.78" text-anchor="end" fill="#000" stroke="#000" stroke-width="0.2">BTOA-6</text>
<text class="ls" transform="translate(1420.15,1389.28) scale(0.9750,1.0000)" font-size="15.86" text-anchor="start" fill="#000" stroke="#000" stroke-width="0.2">2.05</text>
<line x1="1269.20" y1="1443.09" x2="1275.00" y2="1443.09" stroke="#1c1c1c" stroke-width="1.5"/>
<text class="ls" transform="translate(1263.90,1451.59)" font-size="23.78" text-anchor="end" fill="#000" stroke="#000" stroke-width="0.2">LL</text>
<text class="ls" transform="translate(1420.86,1443.49) scale(0.9750,1.0000)" font-size="15.86" text-anchor="start" fill="#000" stroke="#000" stroke-width="0.2">2.06</text>
<line x1="1269.20" y1="1497.30" x2="1275.00" y2="1497.30" stroke="#1c1c1c" stroke-width="1.5"/>
<text class="ls" transform="translate(1263.90,1505.80)" font-size="23.78" text-anchor="end" fill="#000" stroke="#000" stroke-width="0.2">HEIGHT</text>
<text class="ls" transform="translate(1426.51,1497.70) scale(0.9750,1.0000)" font-size="15.86" text-anchor="start" fill="#000" stroke="#000" stroke-width="0.2">2.14</text>
<line x1="1269.20" y1="1551.51" x2="1275.00" y2="1551.51" stroke="#1c1c1c" stroke-width="1.5"/>
<text class="ls" transform="translate(1263.90,1560.01)" font-size="23.78" text-anchor="end" fill="#000" stroke="#000" stroke-width="0.2">RH</text>
<text class="ls" transform="translate(1477.34,1551.91) scale(0.9750,1.0000)" font-size="15.86" text-anchor="start" fill="#000" stroke="#000" stroke-width="0.2">2.86</text>
<line x1="1269.20" y1="1605.72" x2="1275.00" y2="1605.72" stroke="#1c1c1c" stroke-width="1.5"/>
<text class="ls" transform="translate(1263.90,1614.22)" font-size="23.78" text-anchor="end" fill="#000" stroke="#000" stroke-width="0.2">BTOA-9</text>
<text class="ls" transform="translate(1489.35,1606.12) scale(0.9750,1.0000)" font-size="15.86" text-anchor="start" fill="#000" stroke="#000" stroke-width="0.2">3.03</text>
<line x1="1269.20" y1="1659.93" x2="1275.00" y2="1659.93" stroke="#1c1c1c" stroke-width="1.5"/>
<text class="ls" transform="translate(1263.90,1668.43)" font-size="23.78" text-anchor="end" fill="#000" stroke="#000" stroke-width="0.2">BLH</text>
<text class="ls" transform="translate(1504.88,1660.33) scale(0.9750,1.0000)" font-size="15.86" text-anchor="start" fill="#000" stroke="#000" stroke-width="0.2">3.25</text>
<line x1="1269.20" y1="1714.15" x2="1275.00" y2="1714.15" stroke="#1c1c1c" stroke-width="1.5"/>
<text class="ls" transform="translate(1263.90,1722.65)" font-size="23.78" text-anchor="end" fill="#000" stroke="#000" stroke-width="0.2">TM</text>
<text class="ls" transform="translate(1514.77,1714.55) scale(0.9750,1.0000)" font-size="15.86" text-anchor="start" fill="#000" stroke="#000" stroke-width="0.2">3.39</text>
<line x1="1269.20" y1="1768.36" x2="1275.00" y2="1768.36" stroke="#1c1c1c" stroke-width="1.5"/>
<text class="ls" transform="translate(1263.90,1776.86)" font-size="23.78" text-anchor="end" fill="#000" stroke="#000" stroke-width="0.2">BTOA-11</text>
<text class="ls" transform="translate(1645.40,1768.76) scale(0.9750,1.0000)" font-size="15.86" text-anchor="start" fill="#000" stroke="#000" stroke-width="0.2">5.24</text>
<line x1="1269.20" y1="1822.57" x2="1275.00" y2="1822.57" stroke="#1c1c1c" stroke-width="1.5"/>
<text class="ls" transform="translate(1263.90,1831.07)" font-size="23.78" text-anchor="end" fill="#000" stroke="#000" stroke-width="0.2">BTOA-14</text>
<text class="ls" transform="translate(1882.65,1822.97) scale(0.9750,1.0000)" font-size="15.86" text-anchor="start" fill="#000" stroke="#000" stroke-width="0.2">8.6</text>
<line x1="1269.20" y1="1876.78" x2="1275.00" y2="1876.78" stroke="#1c1c1c" stroke-width="1.5"/>
<text class="ls" transform="translate(1263.90,1885.28)" font-size="23.78" text-anchor="end" fill="#000" stroke="#000" stroke-width="0.2">BTOA-15</text>
<text class="ls" transform="translate(1939.13,1877.18) scale(0.9750,1.0000)" font-size="15.86" text-anchor="start" fill="#000" stroke="#000" stroke-width="0.2">9.4</text>
<line x1="1275.00" y1="1935.60" x2="1275.00" y2="1941.40" stroke="#1c1c1c" stroke-width="1.5"/>
<text class="ls" transform="translate(1275.00,1964.40)" font-size="23.78" text-anchor="middle" fill="#000" stroke="#000" stroke-width="0.2">0</text>
<line x1="1416.22" y1="1935.60" x2="1416.22" y2="1941.40" stroke="#1c1c1c" stroke-width="1.5"/>
<text class="ls" transform="translate(1416.22,1964.40)" font-size="23.78" text-anchor="middle" fill="#000" stroke="#000" stroke-width="0.2">2</text>
<line x1="1557.44" y1="1935.60" x2="1557.44" y2="1941.40" stroke="#1c1c1c" stroke-width="1.5"/>
<text class="ls" transform="translate(1557.44,1964.40)" font-size="23.78" text-anchor="middle" fill="#000" stroke="#000" stroke-width="0.2">4</text>
<line x1="1698.66" y1="1935.60" x2="1698.66" y2="1941.40" stroke="#1c1c1c" stroke-width="1.5"/>
<text class="ls" transform="translate(1698.66,1964.40)" font-size="23.78" text-anchor="middle" fill="#000" stroke="#000" stroke-width="0.2">6</text>
<line x1="1839.88" y1="1935.60" x2="1839.88" y2="1941.40" stroke="#1c1c1c" stroke-width="1.5"/>
<text class="ls" transform="translate(1839.88,1964.40)" font-size="23.78" text-anchor="middle" fill="#000" stroke="#000" stroke-width="0.2">8</text>
<line x1="1981.10" y1="1935.60" x2="1981.10" y2="1941.40" stroke="#1c1c1c" stroke-width="1.5"/>
<text class="ls" transform="translate(1981.10,1964.40)" font-size="23.78" text-anchor="middle" fill="#000" stroke="#000" stroke-width="0.2">10</text>
<text class="ls" transform="translate(1628.05,1991.50)" font-size="23.78" text-anchor="middle" fill="#000" stroke="#000" stroke-width="0.2">FY-4B input variables VIF value</text>
<text class="ls" transform="translate(1154.30,1497.30) rotate(-90)" font-size="23.78" text-anchor="middle" fill="#000" stroke="#000" stroke-width="0.2">Input variables</text>
</g>
<text class="ls" transform="translate(0,41.80) scale(0.925,1.008)" x="-0.11 18.59 53.95" y="0" font-size="53.0" fill="#000">(a)</text>
<text class="ls" transform="translate(0,1049.20) scale(0.925,1.008)" x="-0.22 19.46 53.51" y="0" font-size="53.0" fill="#000">(b)</text>
</svg>
</body></html>
